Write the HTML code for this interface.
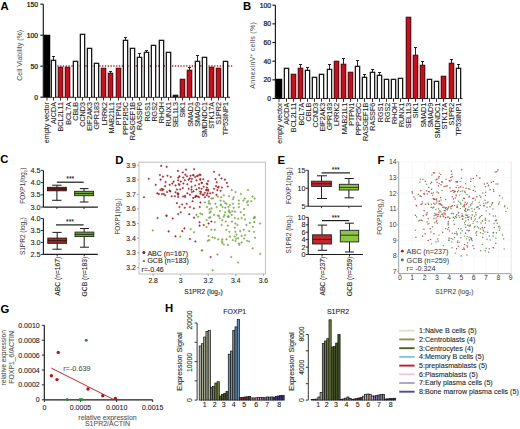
<!DOCTYPE html>
<html><head><meta charset="utf-8"><style>
html,body{margin:0;padding:0;background:#fff;width:520px;height:429px;overflow:hidden}
svg{display:block}
text{font-family:"Liberation Sans", sans-serif}
</style></head><body>
<svg width="520" height="429" viewBox="0 0 520 429" style="font-family:'Liberation Sans', sans-serif">
<rect width="520" height="429" fill="#fff"/>
<text x="0.40" y="9.90" font-size="11.3" text-anchor="start" fill="#000" font-weight="bold">A</text>
<line x1="43.30" y1="4.20" x2="43.30" y2="97.20" stroke="#1a1a1a" stroke-width="1.15"/>
<line x1="43.30" y1="97.20" x2="230.00" y2="97.20" stroke="#1a1a1a" stroke-width="1.15"/>
<line x1="40.30" y1="97.20" x2="43.30" y2="97.20" stroke="#1a1a1a" stroke-width="1.15"/>
<text x="38.00" y="99.60" font-size="6.8" text-anchor="end" fill="#111" stroke="#111" stroke-width="0.22">0</text>
<line x1="40.30" y1="66.20" x2="43.30" y2="66.20" stroke="#1a1a1a" stroke-width="1.15"/>
<text x="38.00" y="68.60" font-size="6.8" text-anchor="end" fill="#111" stroke="#111" stroke-width="0.22">50</text>
<line x1="40.30" y1="35.20" x2="43.30" y2="35.20" stroke="#1a1a1a" stroke-width="1.15"/>
<text x="38.00" y="37.60" font-size="6.8" text-anchor="end" fill="#111" stroke="#111" stroke-width="0.22">100</text>
<line x1="40.30" y1="4.20" x2="43.30" y2="4.20" stroke="#1a1a1a" stroke-width="1.15"/>
<text x="38.00" y="6.60" font-size="6.8" text-anchor="end" fill="#111" stroke="#111" stroke-width="0.22">150</text>
<line x1="43.30" y1="66.00" x2="233.00" y2="66.00" stroke="#b02024" stroke-width="1.3" stroke-dasharray="1.3 1.5"/>
<rect x="43.75" y="34.75" width="6.50" height="62.45" fill="#000"/>
<line x1="47.00" y1="97.20" x2="47.00" y2="100.50" stroke="#1a1a1a" stroke-width="0.9"/>
<text x="49.10" y="102.00" font-size="7.2" text-anchor="end" fill="#1a1a1a" transform="rotate(-90 49.1 102.0)" stroke="#1a1a1a" stroke-width="0.09">empty vector</text>
<rect x="50.70" y="59.70" width="5.60" height="37.50" fill="#1a1a1a"/>
<rect x="52.00" y="61.00" width="3.00" height="36.20" fill="#fff"/>
<line x1="53.50" y1="56.50" x2="53.50" y2="60.00" stroke="#222" stroke-width="1.0"/>
<line x1="52.00" y1="56.50" x2="55.00" y2="56.50" stroke="#222" stroke-width="1.0"/>
<line x1="53.50" y1="97.20" x2="53.50" y2="100.50" stroke="#1a1a1a" stroke-width="0.9"/>
<text x="56.27" y="102.00" font-size="7.2" text-anchor="end" fill="#1a1a1a" transform="rotate(-90 56.275 102.0)" stroke="#1a1a1a" stroke-width="0.09">AICDA</text>
<rect x="57.70" y="66.70" width="5.60" height="30.50" fill="#5a0c12"/>
<rect x="58.80" y="67.80" width="3.40" height="29.40" fill="#c1121f"/>
<line x1="60.50" y1="97.20" x2="60.50" y2="100.50" stroke="#1a1a1a" stroke-width="0.9"/>
<text x="63.45" y="102.00" font-size="7.2" text-anchor="end" fill="#1a1a1a" transform="rotate(-90 63.45 102.0)" stroke="#1a1a1a" stroke-width="0.09">BCL2L11</text>
<rect x="64.70" y="66.70" width="5.60" height="30.50" fill="#5a0c12"/>
<rect x="65.80" y="67.80" width="3.40" height="29.40" fill="#c1121f"/>
<line x1="67.50" y1="97.20" x2="67.50" y2="100.50" stroke="#1a1a1a" stroke-width="0.9"/>
<text x="70.62" y="102.00" font-size="7.2" text-anchor="end" fill="#1a1a1a" transform="rotate(-90 70.625 102.0)" stroke="#1a1a1a" stroke-width="0.09">BCL7A</text>
<rect x="72.70" y="60.70" width="5.60" height="36.50" fill="#1a1a1a"/>
<rect x="74.00" y="62.00" width="3.00" height="35.20" fill="#fff"/>
<line x1="75.50" y1="97.20" x2="75.50" y2="100.50" stroke="#1a1a1a" stroke-width="0.9"/>
<text x="77.80" y="102.00" font-size="7.2" text-anchor="end" fill="#1a1a1a" transform="rotate(-90 77.8 102.0)" stroke="#1a1a1a" stroke-width="0.09">CBLB</text>
<rect x="79.70" y="33.70" width="5.60" height="63.50" fill="#1a1a1a"/>
<rect x="81.00" y="35.00" width="3.00" height="62.20" fill="#fff"/>
<line x1="82.50" y1="97.20" x2="82.50" y2="100.50" stroke="#1a1a1a" stroke-width="0.9"/>
<text x="84.97" y="102.00" font-size="7.2" text-anchor="end" fill="#1a1a1a" transform="rotate(-90 84.975 102.0)" stroke="#1a1a1a" stroke-width="0.09">CCND3</text>
<rect x="86.70" y="47.70" width="5.60" height="49.50" fill="#1a1a1a"/>
<rect x="88.00" y="49.00" width="3.00" height="48.20" fill="#fff"/>
<line x1="89.50" y1="97.20" x2="89.50" y2="100.50" stroke="#1a1a1a" stroke-width="0.9"/>
<text x="92.15" y="102.00" font-size="7.2" text-anchor="end" fill="#1a1a1a" transform="rotate(-90 92.15 102.0)" stroke="#1a1a1a" stroke-width="0.09">EIF2AK3</text>
<rect x="93.70" y="62.70" width="5.60" height="34.50" fill="#1a1a1a"/>
<rect x="95.00" y="64.00" width="3.00" height="33.20" fill="#fff"/>
<line x1="96.50" y1="97.20" x2="96.50" y2="100.50" stroke="#1a1a1a" stroke-width="0.9"/>
<text x="99.33" y="102.00" font-size="7.2" text-anchor="end" fill="#1a1a1a" transform="rotate(-90 99.325 102.0)" stroke="#1a1a1a" stroke-width="0.09">GPR183</text>
<rect x="100.70" y="67.70" width="5.60" height="29.50" fill="#5a0c12"/>
<rect x="101.80" y="68.80" width="3.40" height="28.40" fill="#c1121f"/>
<line x1="103.50" y1="97.20" x2="103.50" y2="100.50" stroke="#1a1a1a" stroke-width="0.9"/>
<text x="106.50" y="102.00" font-size="7.2" text-anchor="end" fill="#1a1a1a" transform="rotate(-90 106.5 102.0)" stroke="#1a1a1a" stroke-width="0.09">LRRK2</text>
<rect x="107.70" y="72.70" width="5.60" height="24.50" fill="#5a0c12"/>
<rect x="108.80" y="73.80" width="3.40" height="23.40" fill="#c1121f"/>
<line x1="110.50" y1="71.50" x2="110.50" y2="73.00" stroke="#222" stroke-width="1.0"/>
<line x1="109.00" y1="71.50" x2="112.00" y2="71.50" stroke="#222" stroke-width="1.0"/>
<line x1="110.50" y1="97.20" x2="110.50" y2="100.50" stroke="#1a1a1a" stroke-width="0.9"/>
<text x="113.68" y="102.00" font-size="7.2" text-anchor="end" fill="#1a1a1a" transform="rotate(-90 113.67500000000001 102.0)" stroke="#1a1a1a" stroke-width="0.09">MAB21L1</text>
<rect x="115.70" y="67.70" width="5.60" height="29.50" fill="#5a0c12"/>
<rect x="116.80" y="68.80" width="3.40" height="28.40" fill="#c1121f"/>
<line x1="118.50" y1="97.20" x2="118.50" y2="100.50" stroke="#1a1a1a" stroke-width="0.9"/>
<text x="120.85" y="102.00" font-size="7.2" text-anchor="end" fill="#1a1a1a" transform="rotate(-90 120.85 102.0)" stroke="#1a1a1a" stroke-width="0.09">PTPN1</text>
<rect x="122.70" y="39.70" width="5.60" height="57.50" fill="#1a1a1a"/>
<rect x="124.00" y="41.00" width="3.00" height="56.20" fill="#fff"/>
<line x1="125.50" y1="37.50" x2="125.50" y2="40.00" stroke="#222" stroke-width="1.0"/>
<line x1="124.00" y1="37.50" x2="127.00" y2="37.50" stroke="#222" stroke-width="1.0"/>
<line x1="125.50" y1="97.20" x2="125.50" y2="100.50" stroke="#1a1a1a" stroke-width="0.9"/>
<text x="128.03" y="102.00" font-size="7.2" text-anchor="end" fill="#1a1a1a" transform="rotate(-90 128.025 102.0)" stroke="#1a1a1a" stroke-width="0.09">PPP2R5C</text>
<rect x="129.70" y="47.70" width="5.60" height="49.50" fill="#1a1a1a"/>
<rect x="131.00" y="49.00" width="3.00" height="48.20" fill="#fff"/>
<line x1="132.50" y1="97.20" x2="132.50" y2="100.50" stroke="#1a1a1a" stroke-width="0.9"/>
<text x="135.20" y="102.00" font-size="7.2" text-anchor="end" fill="#1a1a1a" transform="rotate(-90 135.2 102.0)" stroke="#1a1a1a" stroke-width="0.09">RASGEF1B</text>
<rect x="136.70" y="56.70" width="5.60" height="40.50" fill="#1a1a1a"/>
<rect x="138.00" y="58.00" width="3.00" height="39.20" fill="#fff"/>
<line x1="139.50" y1="53.50" x2="139.50" y2="57.00" stroke="#222" stroke-width="1.0"/>
<line x1="138.00" y1="53.50" x2="141.00" y2="53.50" stroke="#222" stroke-width="1.0"/>
<line x1="139.50" y1="97.20" x2="139.50" y2="100.50" stroke="#1a1a1a" stroke-width="0.9"/>
<text x="142.38" y="102.00" font-size="7.2" text-anchor="end" fill="#1a1a1a" transform="rotate(-90 142.375 102.0)" stroke="#1a1a1a" stroke-width="0.09">RASSF6</text>
<rect x="143.70" y="51.70" width="5.60" height="45.50" fill="#1a1a1a"/>
<rect x="145.00" y="53.00" width="3.00" height="44.20" fill="#fff"/>
<line x1="146.50" y1="50.50" x2="146.50" y2="52.00" stroke="#222" stroke-width="1.0"/>
<line x1="145.00" y1="50.50" x2="148.00" y2="50.50" stroke="#222" stroke-width="1.0"/>
<line x1="146.50" y1="97.20" x2="146.50" y2="100.50" stroke="#1a1a1a" stroke-width="0.9"/>
<text x="149.55" y="102.00" font-size="7.2" text-anchor="end" fill="#1a1a1a" transform="rotate(-90 149.55 102.0)" stroke="#1a1a1a" stroke-width="0.09">RGS1</text>
<rect x="150.70" y="44.70" width="5.60" height="52.50" fill="#1a1a1a"/>
<rect x="152.00" y="46.00" width="3.00" height="51.20" fill="#fff"/>
<line x1="153.50" y1="97.20" x2="153.50" y2="100.50" stroke="#1a1a1a" stroke-width="0.9"/>
<text x="156.72" y="102.00" font-size="7.2" text-anchor="end" fill="#1a1a1a" transform="rotate(-90 156.725 102.0)" stroke="#1a1a1a" stroke-width="0.09">RGS2</text>
<rect x="158.70" y="39.70" width="5.60" height="57.50" fill="#1a1a1a"/>
<rect x="160.00" y="41.00" width="3.00" height="56.20" fill="#fff"/>
<line x1="161.50" y1="97.20" x2="161.50" y2="100.50" stroke="#1a1a1a" stroke-width="0.9"/>
<text x="163.90" y="102.00" font-size="7.2" text-anchor="end" fill="#1a1a1a" transform="rotate(-90 163.9 102.0)" stroke="#1a1a1a" stroke-width="0.09">RHOH</text>
<rect x="165.70" y="51.70" width="5.60" height="45.50" fill="#1a1a1a"/>
<rect x="167.00" y="53.00" width="3.00" height="44.20" fill="#fff"/>
<line x1="168.50" y1="97.20" x2="168.50" y2="100.50" stroke="#1a1a1a" stroke-width="0.9"/>
<text x="171.07" y="102.00" font-size="7.2" text-anchor="end" fill="#1a1a1a" transform="rotate(-90 171.075 102.0)" stroke="#1a1a1a" stroke-width="0.09">RUNX1</text>
<rect x="172.70" y="94.70" width="5.60" height="2.50" fill="#1a1a1a"/>
<line x1="175.50" y1="97.20" x2="175.50" y2="100.50" stroke="#1a1a1a" stroke-width="0.9"/>
<text x="178.25" y="102.00" font-size="7.2" text-anchor="end" fill="#1a1a1a" transform="rotate(-90 178.25 102.0)" stroke="#1a1a1a" stroke-width="0.09">SEL1L3</text>
<rect x="179.70" y="78.70" width="5.60" height="18.50" fill="#5a0c12"/>
<rect x="180.80" y="79.80" width="3.40" height="17.40" fill="#c1121f"/>
<line x1="182.50" y1="97.20" x2="182.50" y2="100.50" stroke="#1a1a1a" stroke-width="0.9"/>
<text x="185.42" y="102.00" font-size="7.2" text-anchor="end" fill="#1a1a1a" transform="rotate(-90 185.42499999999998 102.0)" stroke="#1a1a1a" stroke-width="0.09">SIK1</text>
<rect x="186.70" y="69.70" width="5.60" height="27.50" fill="#5a0c12"/>
<rect x="187.80" y="70.80" width="3.40" height="26.40" fill="#c1121f"/>
<line x1="189.50" y1="67.50" x2="189.50" y2="70.00" stroke="#222" stroke-width="1.0"/>
<line x1="188.00" y1="67.50" x2="191.00" y2="67.50" stroke="#222" stroke-width="1.0"/>
<line x1="189.50" y1="97.20" x2="189.50" y2="100.50" stroke="#1a1a1a" stroke-width="0.9"/>
<text x="192.60" y="102.00" font-size="7.2" text-anchor="end" fill="#1a1a1a" transform="rotate(-90 192.6 102.0)" stroke="#1a1a1a" stroke-width="0.09">SMAD1</text>
<rect x="194.70" y="60.70" width="5.60" height="36.50" fill="#1a1a1a"/>
<rect x="196.00" y="62.00" width="3.00" height="35.20" fill="#fff"/>
<line x1="197.50" y1="55.50" x2="197.50" y2="61.00" stroke="#222" stroke-width="1.0"/>
<line x1="196.00" y1="55.50" x2="199.00" y2="55.50" stroke="#222" stroke-width="1.0"/>
<line x1="197.50" y1="97.20" x2="197.50" y2="100.50" stroke="#1a1a1a" stroke-width="0.9"/>
<text x="199.77" y="102.00" font-size="7.2" text-anchor="end" fill="#1a1a1a" transform="rotate(-90 199.77499999999998 102.0)" stroke="#1a1a1a" stroke-width="0.09">SMAD9</text>
<rect x="201.70" y="56.70" width="5.60" height="40.50" fill="#1a1a1a"/>
<rect x="203.00" y="58.00" width="3.00" height="39.20" fill="#fff"/>
<line x1="204.50" y1="97.20" x2="204.50" y2="100.50" stroke="#1a1a1a" stroke-width="0.9"/>
<text x="206.95" y="102.00" font-size="7.2" text-anchor="end" fill="#1a1a1a" transform="rotate(-90 206.95 102.0)" stroke="#1a1a1a" stroke-width="0.09">SMDNDC1</text>
<rect x="208.70" y="66.70" width="5.60" height="30.50" fill="#5a0c12"/>
<rect x="209.80" y="67.80" width="3.40" height="29.40" fill="#c1121f"/>
<line x1="211.50" y1="97.20" x2="211.50" y2="100.50" stroke="#1a1a1a" stroke-width="0.9"/>
<text x="214.12" y="102.00" font-size="7.2" text-anchor="end" fill="#1a1a1a" transform="rotate(-90 214.125 102.0)" stroke="#1a1a1a" stroke-width="0.09">STK17A</text>
<rect x="215.70" y="67.70" width="5.60" height="29.50" fill="#5a0c12"/>
<rect x="216.80" y="68.80" width="3.40" height="28.40" fill="#c1121f"/>
<line x1="218.50" y1="97.20" x2="218.50" y2="100.50" stroke="#1a1a1a" stroke-width="0.9"/>
<text x="221.30" y="102.00" font-size="7.2" text-anchor="end" fill="#1a1a1a" transform="rotate(-90 221.29999999999998 102.0)" stroke="#1a1a1a" stroke-width="0.09">S1PR2</text>
<rect x="222.70" y="60.70" width="5.60" height="36.50" fill="#1a1a1a"/>
<rect x="224.00" y="62.00" width="3.00" height="35.20" fill="#fff"/>
<line x1="225.50" y1="97.20" x2="225.50" y2="100.50" stroke="#1a1a1a" stroke-width="0.9"/>
<text x="228.47" y="102.00" font-size="7.2" text-anchor="end" fill="#1a1a1a" transform="rotate(-90 228.475 102.0)" stroke="#1a1a1a" stroke-width="0.09">TP53INP1</text>
<text x="22.0" y="55.3" font-size="7.0" text-anchor="middle" fill="#4a4a4a" transform="rotate(-90 22.0 55.3)">Cell Viability (%)</text>
<text x="243.00" y="10.20" font-size="11.3" text-anchor="start" fill="#000" font-weight="bold">B</text>
<line x1="275.40" y1="5.20" x2="275.40" y2="98.50" stroke="#1a1a1a" stroke-width="1.15"/>
<line x1="275.40" y1="98.50" x2="462.50" y2="98.50" stroke="#1a1a1a" stroke-width="1.15"/>
<line x1="272.40" y1="98.50" x2="275.40" y2="98.50" stroke="#1a1a1a" stroke-width="1.15"/>
<text x="271.10" y="100.90" font-size="6.8" text-anchor="end" fill="#111" stroke="#111" stroke-width="0.22">0</text>
<line x1="272.40" y1="79.84" x2="275.40" y2="79.84" stroke="#1a1a1a" stroke-width="1.15"/>
<text x="271.10" y="82.24" font-size="6.8" text-anchor="end" fill="#111" stroke="#111" stroke-width="0.22">20</text>
<line x1="272.40" y1="61.18" x2="275.40" y2="61.18" stroke="#1a1a1a" stroke-width="1.15"/>
<text x="271.10" y="63.58" font-size="6.8" text-anchor="end" fill="#111" stroke="#111" stroke-width="0.22">40</text>
<line x1="272.40" y1="42.52" x2="275.40" y2="42.52" stroke="#1a1a1a" stroke-width="1.15"/>
<text x="271.10" y="44.92" font-size="6.8" text-anchor="end" fill="#111" stroke="#111" stroke-width="0.22">60</text>
<line x1="272.40" y1="23.86" x2="275.40" y2="23.86" stroke="#1a1a1a" stroke-width="1.15"/>
<text x="271.10" y="26.26" font-size="6.8" text-anchor="end" fill="#111" stroke="#111" stroke-width="0.22">80</text>
<line x1="272.40" y1="5.20" x2="275.40" y2="5.20" stroke="#1a1a1a" stroke-width="1.15"/>
<text x="271.10" y="7.60" font-size="6.8" text-anchor="end" fill="#111" stroke="#111" stroke-width="0.22">100</text>
<rect x="275.75" y="78.75" width="6.50" height="19.75" fill="#000"/>
<line x1="279.00" y1="98.50" x2="279.00" y2="101.80" stroke="#1a1a1a" stroke-width="0.9"/>
<text x="282.10" y="102.70" font-size="7.2" text-anchor="end" fill="#1a1a1a" transform="rotate(-90 282.1 102.7)" stroke="#1a1a1a" stroke-width="0.09">empty vector</text>
<rect x="283.70" y="67.70" width="5.60" height="30.80" fill="#1a1a1a"/>
<rect x="285.00" y="69.00" width="3.00" height="29.50" fill="#fff"/>
<line x1="286.50" y1="98.50" x2="286.50" y2="101.80" stroke="#1a1a1a" stroke-width="0.9"/>
<text x="289.28" y="102.70" font-size="7.2" text-anchor="end" fill="#1a1a1a" transform="rotate(-90 289.276 102.7)" stroke="#1a1a1a" stroke-width="0.09">AICDA</text>
<rect x="290.70" y="73.70" width="5.60" height="24.80" fill="#5a0c12"/>
<rect x="291.80" y="74.80" width="3.40" height="23.70" fill="#c1121f"/>
<line x1="293.50" y1="98.50" x2="293.50" y2="101.80" stroke="#1a1a1a" stroke-width="0.9"/>
<text x="296.45" y="102.70" font-size="7.2" text-anchor="end" fill="#1a1a1a" transform="rotate(-90 296.452 102.7)" stroke="#1a1a1a" stroke-width="0.09">BCL2L11</text>
<rect x="297.70" y="67.70" width="5.60" height="30.80" fill="#5a0c12"/>
<rect x="298.80" y="68.80" width="3.40" height="29.70" fill="#c1121f"/>
<line x1="300.50" y1="64.50" x2="300.50" y2="68.00" stroke="#222" stroke-width="1.0"/>
<line x1="299.00" y1="64.50" x2="302.00" y2="64.50" stroke="#222" stroke-width="1.0"/>
<line x1="300.50" y1="98.50" x2="300.50" y2="101.80" stroke="#1a1a1a" stroke-width="0.9"/>
<text x="303.63" y="102.70" font-size="7.2" text-anchor="end" fill="#1a1a1a" transform="rotate(-90 303.62800000000004 102.7)" stroke="#1a1a1a" stroke-width="0.09">BCL7A</text>
<rect x="304.70" y="69.70" width="5.60" height="28.80" fill="#1a1a1a"/>
<rect x="306.00" y="71.00" width="3.00" height="27.50" fill="#fff"/>
<line x1="307.50" y1="67.50" x2="307.50" y2="70.00" stroke="#222" stroke-width="1.0"/>
<line x1="306.00" y1="67.50" x2="309.00" y2="67.50" stroke="#222" stroke-width="1.0"/>
<line x1="307.50" y1="98.50" x2="307.50" y2="101.80" stroke="#1a1a1a" stroke-width="0.9"/>
<text x="310.80" y="102.70" font-size="7.2" text-anchor="end" fill="#1a1a1a" transform="rotate(-90 310.80400000000003 102.7)" stroke="#1a1a1a" stroke-width="0.09">CBLB</text>
<rect x="311.70" y="76.70" width="5.60" height="21.80" fill="#1a1a1a"/>
<rect x="313.00" y="78.00" width="3.00" height="20.50" fill="#fff"/>
<line x1="314.50" y1="98.50" x2="314.50" y2="101.80" stroke="#1a1a1a" stroke-width="0.9"/>
<text x="317.98" y="102.70" font-size="7.2" text-anchor="end" fill="#1a1a1a" transform="rotate(-90 317.98 102.7)" stroke="#1a1a1a" stroke-width="0.09">CCND3</text>
<rect x="318.70" y="73.70" width="5.60" height="24.80" fill="#1a1a1a"/>
<rect x="320.00" y="75.00" width="3.00" height="23.50" fill="#fff"/>
<line x1="321.50" y1="98.50" x2="321.50" y2="101.80" stroke="#1a1a1a" stroke-width="0.9"/>
<text x="325.16" y="102.70" font-size="7.2" text-anchor="end" fill="#1a1a1a" transform="rotate(-90 325.156 102.7)" stroke="#1a1a1a" stroke-width="0.09">EIF2AK3</text>
<rect x="326.70" y="68.70" width="5.60" height="29.80" fill="#1a1a1a"/>
<rect x="328.00" y="70.00" width="3.00" height="28.50" fill="#fff"/>
<line x1="329.50" y1="64.50" x2="329.50" y2="69.00" stroke="#222" stroke-width="1.0"/>
<line x1="328.00" y1="64.50" x2="331.00" y2="64.50" stroke="#222" stroke-width="1.0"/>
<line x1="329.50" y1="98.50" x2="329.50" y2="101.80" stroke="#1a1a1a" stroke-width="0.9"/>
<text x="332.33" y="102.70" font-size="7.2" text-anchor="end" fill="#1a1a1a" transform="rotate(-90 332.332 102.7)" stroke="#1a1a1a" stroke-width="0.09">GPR183</text>
<rect x="333.70" y="60.70" width="5.60" height="37.80" fill="#5a0c12"/>
<rect x="334.80" y="61.80" width="3.40" height="36.70" fill="#c1121f"/>
<line x1="336.50" y1="98.50" x2="336.50" y2="101.80" stroke="#1a1a1a" stroke-width="0.9"/>
<text x="339.51" y="102.70" font-size="7.2" text-anchor="end" fill="#1a1a1a" transform="rotate(-90 339.50800000000004 102.7)" stroke="#1a1a1a" stroke-width="0.09">LRRK2</text>
<rect x="340.70" y="63.70" width="5.60" height="34.80" fill="#5a0c12"/>
<rect x="341.80" y="64.80" width="3.40" height="33.70" fill="#c1121f"/>
<line x1="343.50" y1="58.50" x2="343.50" y2="64.00" stroke="#222" stroke-width="1.0"/>
<line x1="342.00" y1="58.50" x2="345.00" y2="58.50" stroke="#222" stroke-width="1.0"/>
<line x1="343.50" y1="98.50" x2="343.50" y2="101.80" stroke="#1a1a1a" stroke-width="0.9"/>
<text x="346.68" y="102.70" font-size="7.2" text-anchor="end" fill="#1a1a1a" transform="rotate(-90 346.684 102.7)" stroke="#1a1a1a" stroke-width="0.09">MAB21L1</text>
<rect x="347.70" y="71.70" width="5.60" height="26.80" fill="#5a0c12"/>
<rect x="348.80" y="72.80" width="3.40" height="25.70" fill="#c1121f"/>
<line x1="350.50" y1="98.50" x2="350.50" y2="101.80" stroke="#1a1a1a" stroke-width="0.9"/>
<text x="353.86" y="102.70" font-size="7.2" text-anchor="end" fill="#1a1a1a" transform="rotate(-90 353.86 102.7)" stroke="#1a1a1a" stroke-width="0.09">PTPN1</text>
<rect x="354.70" y="65.70" width="5.60" height="32.80" fill="#1a1a1a"/>
<rect x="356.00" y="67.00" width="3.00" height="31.50" fill="#fff"/>
<line x1="357.50" y1="60.50" x2="357.50" y2="66.00" stroke="#222" stroke-width="1.0"/>
<line x1="356.00" y1="60.50" x2="359.00" y2="60.50" stroke="#222" stroke-width="1.0"/>
<line x1="357.50" y1="98.50" x2="357.50" y2="101.80" stroke="#1a1a1a" stroke-width="0.9"/>
<text x="361.04" y="102.70" font-size="7.2" text-anchor="end" fill="#1a1a1a" transform="rotate(-90 361.03600000000006 102.7)" stroke="#1a1a1a" stroke-width="0.09">PPP2R5C</text>
<rect x="361.70" y="76.70" width="5.60" height="21.80" fill="#1a1a1a"/>
<rect x="363.00" y="78.00" width="3.00" height="20.50" fill="#fff"/>
<line x1="364.50" y1="74.50" x2="364.50" y2="77.00" stroke="#222" stroke-width="1.0"/>
<line x1="363.00" y1="74.50" x2="366.00" y2="74.50" stroke="#222" stroke-width="1.0"/>
<line x1="364.50" y1="98.50" x2="364.50" y2="101.80" stroke="#1a1a1a" stroke-width="0.9"/>
<text x="368.21" y="102.70" font-size="7.2" text-anchor="end" fill="#1a1a1a" transform="rotate(-90 368.212 102.7)" stroke="#1a1a1a" stroke-width="0.09">RASGEF1B</text>
<rect x="369.70" y="71.70" width="5.60" height="26.80" fill="#1a1a1a"/>
<rect x="371.00" y="73.00" width="3.00" height="25.50" fill="#fff"/>
<line x1="372.50" y1="69.50" x2="372.50" y2="72.00" stroke="#222" stroke-width="1.0"/>
<line x1="371.00" y1="69.50" x2="374.00" y2="69.50" stroke="#222" stroke-width="1.0"/>
<line x1="372.50" y1="98.50" x2="372.50" y2="101.80" stroke="#1a1a1a" stroke-width="0.9"/>
<text x="375.39" y="102.70" font-size="7.2" text-anchor="end" fill="#1a1a1a" transform="rotate(-90 375.38800000000003 102.7)" stroke="#1a1a1a" stroke-width="0.09">RASSF6</text>
<rect x="376.70" y="74.70" width="5.60" height="23.80" fill="#1a1a1a"/>
<rect x="378.00" y="76.00" width="3.00" height="22.50" fill="#fff"/>
<line x1="379.50" y1="72.50" x2="379.50" y2="75.00" stroke="#222" stroke-width="1.0"/>
<line x1="378.00" y1="72.50" x2="381.00" y2="72.50" stroke="#222" stroke-width="1.0"/>
<line x1="379.50" y1="98.50" x2="379.50" y2="101.80" stroke="#1a1a1a" stroke-width="0.9"/>
<text x="382.56" y="102.70" font-size="7.2" text-anchor="end" fill="#1a1a1a" transform="rotate(-90 382.564 102.7)" stroke="#1a1a1a" stroke-width="0.09">RGS1</text>
<rect x="383.70" y="78.70" width="5.60" height="19.80" fill="#1a1a1a"/>
<rect x="385.00" y="80.00" width="3.00" height="18.50" fill="#fff"/>
<line x1="386.50" y1="98.50" x2="386.50" y2="101.80" stroke="#1a1a1a" stroke-width="0.9"/>
<text x="389.74" y="102.70" font-size="7.2" text-anchor="end" fill="#1a1a1a" transform="rotate(-90 389.74 102.7)" stroke="#1a1a1a" stroke-width="0.09">RGS2</text>
<rect x="390.70" y="78.70" width="5.60" height="19.80" fill="#1a1a1a"/>
<rect x="392.00" y="80.00" width="3.00" height="18.50" fill="#fff"/>
<line x1="393.50" y1="98.50" x2="393.50" y2="101.80" stroke="#1a1a1a" stroke-width="0.9"/>
<text x="396.92" y="102.70" font-size="7.2" text-anchor="end" fill="#1a1a1a" transform="rotate(-90 396.91600000000005 102.7)" stroke="#1a1a1a" stroke-width="0.09">RHOH</text>
<rect x="397.70" y="77.70" width="5.60" height="20.80" fill="#1a1a1a"/>
<rect x="399.00" y="79.00" width="3.00" height="19.50" fill="#fff"/>
<line x1="400.50" y1="98.50" x2="400.50" y2="101.80" stroke="#1a1a1a" stroke-width="0.9"/>
<text x="404.09" y="102.70" font-size="7.2" text-anchor="end" fill="#1a1a1a" transform="rotate(-90 404.09200000000004 102.7)" stroke="#1a1a1a" stroke-width="0.09">RUNX1</text>
<rect x="405.70" y="16.70" width="5.60" height="81.80" fill="#5a0c12"/>
<rect x="406.80" y="17.80" width="3.40" height="80.70" fill="#c1121f"/>
<line x1="408.50" y1="98.50" x2="408.50" y2="101.80" stroke="#1a1a1a" stroke-width="0.9"/>
<text x="411.27" y="102.70" font-size="7.2" text-anchor="end" fill="#1a1a1a" transform="rotate(-90 411.26800000000003 102.7)" stroke="#1a1a1a" stroke-width="0.09">SEL1L3</text>
<rect x="412.70" y="54.70" width="5.60" height="43.80" fill="#5a0c12"/>
<rect x="413.80" y="55.80" width="3.40" height="42.70" fill="#c1121f"/>
<line x1="415.50" y1="47.50" x2="415.50" y2="55.00" stroke="#222" stroke-width="1.0"/>
<line x1="414.00" y1="47.50" x2="417.00" y2="47.50" stroke="#222" stroke-width="1.0"/>
<line x1="415.50" y1="98.50" x2="415.50" y2="101.80" stroke="#1a1a1a" stroke-width="0.9"/>
<text x="418.44" y="102.70" font-size="7.2" text-anchor="end" fill="#1a1a1a" transform="rotate(-90 418.444 102.7)" stroke="#1a1a1a" stroke-width="0.09">SIK1</text>
<rect x="419.70" y="64.70" width="5.60" height="33.80" fill="#5a0c12"/>
<rect x="420.80" y="65.80" width="3.40" height="32.70" fill="#c1121f"/>
<line x1="422.50" y1="61.50" x2="422.50" y2="65.00" stroke="#222" stroke-width="1.0"/>
<line x1="421.00" y1="61.50" x2="424.00" y2="61.50" stroke="#222" stroke-width="1.0"/>
<line x1="422.50" y1="98.50" x2="422.50" y2="101.80" stroke="#1a1a1a" stroke-width="0.9"/>
<text x="425.62" y="102.70" font-size="7.2" text-anchor="end" fill="#1a1a1a" transform="rotate(-90 425.62 102.7)" stroke="#1a1a1a" stroke-width="0.09">SMAD1</text>
<rect x="426.70" y="78.70" width="5.60" height="19.80" fill="#1a1a1a"/>
<rect x="428.00" y="80.00" width="3.00" height="18.50" fill="#fff"/>
<line x1="429.50" y1="98.50" x2="429.50" y2="101.80" stroke="#1a1a1a" stroke-width="0.9"/>
<text x="432.80" y="102.70" font-size="7.2" text-anchor="end" fill="#1a1a1a" transform="rotate(-90 432.79600000000005 102.7)" stroke="#1a1a1a" stroke-width="0.09">SMAD9</text>
<rect x="433.70" y="80.70" width="5.60" height="17.80" fill="#1a1a1a"/>
<rect x="435.00" y="82.00" width="3.00" height="16.50" fill="#fff"/>
<line x1="436.50" y1="98.50" x2="436.50" y2="101.80" stroke="#1a1a1a" stroke-width="0.9"/>
<text x="439.97" y="102.70" font-size="7.2" text-anchor="end" fill="#1a1a1a" transform="rotate(-90 439.97200000000004 102.7)" stroke="#1a1a1a" stroke-width="0.09">SMDNDC1</text>
<rect x="440.70" y="75.70" width="5.60" height="22.80" fill="#5a0c12"/>
<rect x="441.80" y="76.80" width="3.40" height="21.70" fill="#c1121f"/>
<line x1="443.50" y1="98.50" x2="443.50" y2="101.80" stroke="#1a1a1a" stroke-width="0.9"/>
<text x="447.15" y="102.70" font-size="7.2" text-anchor="end" fill="#1a1a1a" transform="rotate(-90 447.148 102.7)" stroke="#1a1a1a" stroke-width="0.09">STK17A</text>
<rect x="448.70" y="62.70" width="5.60" height="35.80" fill="#5a0c12"/>
<rect x="449.80" y="63.80" width="3.40" height="34.70" fill="#c1121f"/>
<line x1="451.50" y1="59.50" x2="451.50" y2="63.00" stroke="#222" stroke-width="1.0"/>
<line x1="450.00" y1="59.50" x2="453.00" y2="59.50" stroke="#222" stroke-width="1.0"/>
<line x1="451.50" y1="98.50" x2="451.50" y2="101.80" stroke="#1a1a1a" stroke-width="0.9"/>
<text x="454.32" y="102.70" font-size="7.2" text-anchor="end" fill="#1a1a1a" transform="rotate(-90 454.324 102.7)" stroke="#1a1a1a" stroke-width="0.09">S1PR2</text>
<rect x="455.70" y="67.70" width="5.60" height="30.80" fill="#1a1a1a"/>
<rect x="457.00" y="69.00" width="3.00" height="29.50" fill="#fff"/>
<line x1="458.50" y1="64.50" x2="458.50" y2="68.00" stroke="#222" stroke-width="1.0"/>
<line x1="457.00" y1="64.50" x2="460.00" y2="64.50" stroke="#222" stroke-width="1.0"/>
<line x1="458.50" y1="98.50" x2="458.50" y2="101.80" stroke="#1a1a1a" stroke-width="0.9"/>
<text x="461.50" y="102.70" font-size="7.2" text-anchor="end" fill="#1a1a1a" transform="rotate(-90 461.5 102.7)" stroke="#1a1a1a" stroke-width="0.09">TP53INP1</text>
<text x="255.2" y="55.4" font-size="7.1" text-anchor="middle" fill="#4a4a4a" textLength="66.5" lengthAdjust="spacing" transform="rotate(-90 255.2 55.4)">AnnexinV<tspan font-size="4.8" dy="-2.4">+</tspan><tspan dy="2.4"> cells (%)</tspan></text>
<text x="0.20" y="163.20" font-size="11.3" text-anchor="start" fill="#000" font-weight="bold">C</text>
<line x1="43.40" y1="170.39" x2="43.40" y2="207.10" stroke="#1a1a1a" stroke-width="1.15"/>
<line x1="43.40" y1="207.10" x2="97.80" y2="207.10" stroke="#1a1a1a" stroke-width="1.15"/>
<line x1="40.90" y1="170.39" x2="43.40" y2="170.39" stroke="#1a1a1a" stroke-width="0.9"/>
<text x="40.60" y="172.99" font-size="7.3" text-anchor="end" fill="#1a1a1a" stroke="#1a1a1a" stroke-width="0.09">4.5</text>
<line x1="40.90" y1="182.63" x2="43.40" y2="182.63" stroke="#1a1a1a" stroke-width="0.9"/>
<text x="40.60" y="185.23" font-size="7.3" text-anchor="end" fill="#1a1a1a" stroke="#1a1a1a" stroke-width="0.09">4.0</text>
<line x1="40.90" y1="194.87" x2="43.40" y2="194.87" stroke="#1a1a1a" stroke-width="0.9"/>
<text x="40.60" y="197.47" font-size="7.3" text-anchor="end" fill="#1a1a1a" stroke="#1a1a1a" stroke-width="0.09">3.5</text>
<line x1="40.90" y1="207.10" x2="43.40" y2="207.10" stroke="#1a1a1a" stroke-width="0.9"/>
<text x="40.60" y="209.70" font-size="7.3" text-anchor="end" fill="#1a1a1a" stroke="#1a1a1a" stroke-width="0.09">3.0</text>
<line x1="56.90" y1="207.10" x2="56.90" y2="209.10" stroke="#1a1a1a" stroke-width="0.9"/>
<line x1="84.00" y1="207.10" x2="84.00" y2="209.10" stroke="#1a1a1a" stroke-width="0.9"/>
<line x1="56.90" y1="185.20" x2="56.90" y2="187.30" stroke="#222" stroke-width="1.05"/>
<line x1="56.90" y1="190.80" x2="56.90" y2="200.30" stroke="#222" stroke-width="1.05"/>
<line x1="52.20" y1="185.20" x2="61.50" y2="185.20" stroke="#222" stroke-width="1.05"/>
<line x1="52.20" y1="200.30" x2="61.50" y2="200.30" stroke="#222" stroke-width="1.05"/>
<rect x="47.50" y="187.30" width="18.80" height="3.50" fill="#7e2024" stroke="#2a1010" stroke-width="0.9"/>
<line x1="47.50" y1="189.00" x2="66.30" y2="189.00" stroke="#2a1010" stroke-width="0.9"/>
<line x1="84.00" y1="188.60" x2="84.00" y2="191.30" stroke="#222" stroke-width="1.05"/>
<line x1="84.00" y1="195.70" x2="84.00" y2="202.00" stroke="#222" stroke-width="1.05"/>
<line x1="79.80" y1="188.60" x2="88.50" y2="188.60" stroke="#222" stroke-width="1.05"/>
<line x1="79.80" y1="202.00" x2="88.50" y2="202.00" stroke="#222" stroke-width="1.05"/>
<rect x="74.60" y="191.30" width="19.00" height="4.40" fill="#72a43a" stroke="#1c2a10" stroke-width="0.9"/>
<line x1="74.60" y1="193.50" x2="93.60" y2="193.50" stroke="#1c2a10" stroke-width="0.9"/>
<line x1="56.80" y1="182.20" x2="83.70" y2="182.20" stroke="#1a1a1a" stroke-width="1.2"/>
<text x="70.30" y="181.20" font-size="6.8" text-anchor="middle" fill="#222" stroke="#222" stroke-width="0.09">***</text>
<text x="25.3" y="185.7" font-size="6.4" text-anchor="middle" fill="#333" transform="rotate(-90 25.3 185.7)">FOXP1(log<tspan font-size="4.2" dy="1.4">2</tspan><tspan dy="-1.4">)</tspan></text>
<line x1="43.40" y1="218.50" x2="43.40" y2="254.40" stroke="#1a1a1a" stroke-width="1.15"/>
<line x1="43.40" y1="254.40" x2="97.80" y2="254.40" stroke="#1a1a1a" stroke-width="1.15"/>
<line x1="40.90" y1="218.50" x2="43.40" y2="218.50" stroke="#1a1a1a" stroke-width="0.9"/>
<text x="40.60" y="221.10" font-size="7.3" text-anchor="end" fill="#1a1a1a" stroke="#1a1a1a" stroke-width="0.09">4.0</text>
<line x1="40.90" y1="230.47" x2="43.40" y2="230.47" stroke="#1a1a1a" stroke-width="0.9"/>
<text x="40.60" y="233.07" font-size="7.3" text-anchor="end" fill="#1a1a1a" stroke="#1a1a1a" stroke-width="0.09">3.5</text>
<line x1="40.90" y1="242.44" x2="43.40" y2="242.44" stroke="#1a1a1a" stroke-width="0.9"/>
<text x="40.60" y="245.03" font-size="7.3" text-anchor="end" fill="#1a1a1a" stroke="#1a1a1a" stroke-width="0.09">3.0</text>
<line x1="40.90" y1="254.40" x2="43.40" y2="254.40" stroke="#1a1a1a" stroke-width="0.9"/>
<text x="40.60" y="257.00" font-size="7.3" text-anchor="end" fill="#1a1a1a" stroke="#1a1a1a" stroke-width="0.09">2.5</text>
<line x1="57.20" y1="254.40" x2="57.20" y2="256.40" stroke="#1a1a1a" stroke-width="0.9"/>
<line x1="84.20" y1="254.40" x2="84.20" y2="256.40" stroke="#1a1a1a" stroke-width="0.9"/>
<line x1="57.20" y1="232.40" x2="57.20" y2="238.10" stroke="#222" stroke-width="1.05"/>
<line x1="57.20" y1="243.30" x2="57.20" y2="249.20" stroke="#222" stroke-width="1.05"/>
<line x1="52.40" y1="232.40" x2="61.60" y2="232.40" stroke="#222" stroke-width="1.05"/>
<line x1="52.40" y1="249.20" x2="61.60" y2="249.20" stroke="#222" stroke-width="1.05"/>
<rect x="47.80" y="238.10" width="18.80" height="5.20" fill="#9e2a2a" stroke="#2a1010" stroke-width="0.9"/>
<line x1="47.80" y1="240.70" x2="66.60" y2="240.70" stroke="#2a1010" stroke-width="0.9"/>
<line x1="84.20" y1="228.50" x2="84.20" y2="232.10" stroke="#222" stroke-width="1.05"/>
<line x1="84.20" y1="236.60" x2="84.20" y2="247.20" stroke="#222" stroke-width="1.05"/>
<line x1="80.00" y1="228.50" x2="89.00" y2="228.50" stroke="#222" stroke-width="1.05"/>
<line x1="80.00" y1="247.20" x2="89.00" y2="247.20" stroke="#222" stroke-width="1.05"/>
<rect x="75.00" y="232.10" width="18.80" height="4.50" fill="#72a43a" stroke="#1c2a10" stroke-width="0.9"/>
<line x1="75.00" y1="234.40" x2="93.80" y2="234.40" stroke="#1c2a10" stroke-width="0.9"/>
<line x1="56.00" y1="224.90" x2="83.60" y2="224.90" stroke="#1a1a1a" stroke-width="1.2"/>
<text x="70.00" y="224.00" font-size="6.8" text-anchor="middle" fill="#222" stroke="#222" stroke-width="0.09">***</text>
<text x="25.5" y="236.2" font-size="6.5" text-anchor="middle" fill="#333" transform="rotate(-90 25.5 236.2)">S1PR2 (log<tspan font-size="4.2" dy="1.4">2</tspan><tspan dy="-1.4">)</tspan></text>
<text x="59.60" y="256.80" font-size="6.7" text-anchor="end" fill="#1a1a1a" transform="rotate(-90 59.6 256.8)" stroke="#1a1a1a" stroke-width="0.09">ABC (n=167)</text>
<text x="86.90" y="256.80" font-size="6.7" text-anchor="end" fill="#1a1a1a" transform="rotate(-90 86.9 256.8)" stroke="#1a1a1a" stroke-width="0.09">GCB (n=183)</text>
<text x="115.20" y="163.70" font-size="11.3" text-anchor="start" fill="#000" font-weight="bold">D</text>
<rect x="139.0" y="162.2" width="126.39999999999998" height="111.80000000000001" fill="none" stroke="#b8b8b8" stroke-width="0.9"/>
<line x1="137.00" y1="165.10" x2="139.00" y2="165.10" stroke="#999" stroke-width="0.8"/>
<text x="135.80" y="167.50" font-size="6.8" text-anchor="end" fill="#222" stroke="#222" stroke-width="0.09">3.9</text>
<line x1="137.00" y1="179.73" x2="139.00" y2="179.73" stroke="#999" stroke-width="0.8"/>
<text x="135.80" y="182.13" font-size="6.8" text-anchor="end" fill="#222" stroke="#222" stroke-width="0.09">3.8</text>
<line x1="137.00" y1="194.36" x2="139.00" y2="194.36" stroke="#999" stroke-width="0.8"/>
<text x="135.80" y="196.76" font-size="6.8" text-anchor="end" fill="#222" stroke="#222" stroke-width="0.09">3.7</text>
<line x1="137.00" y1="208.99" x2="139.00" y2="208.99" stroke="#999" stroke-width="0.8"/>
<text x="135.80" y="211.39" font-size="6.8" text-anchor="end" fill="#222" stroke="#222" stroke-width="0.09">3.6</text>
<line x1="137.00" y1="223.62" x2="139.00" y2="223.62" stroke="#999" stroke-width="0.8"/>
<text x="135.80" y="226.02" font-size="6.8" text-anchor="end" fill="#222" stroke="#222" stroke-width="0.09">3.5</text>
<line x1="137.00" y1="238.25" x2="139.00" y2="238.25" stroke="#999" stroke-width="0.8"/>
<text x="135.80" y="240.65" font-size="6.8" text-anchor="end" fill="#222" stroke="#222" stroke-width="0.09">3.4</text>
<line x1="137.00" y1="252.88" x2="139.00" y2="252.88" stroke="#999" stroke-width="0.8"/>
<text x="135.80" y="255.28" font-size="6.8" text-anchor="end" fill="#222" stroke="#222" stroke-width="0.09">3.3</text>
<line x1="137.00" y1="267.51" x2="139.00" y2="267.51" stroke="#999" stroke-width="0.8"/>
<text x="135.80" y="269.91" font-size="6.8" text-anchor="end" fill="#222" stroke="#222" stroke-width="0.09">3.2</text>
<line x1="153.14" y1="274.00" x2="153.14" y2="276.00" stroke="#999" stroke-width="0.8"/>
<text x="153.14" y="282.70" font-size="6.8" text-anchor="middle" fill="#222" stroke="#222" stroke-width="0.09">2.8</text>
<line x1="180.70" y1="274.00" x2="180.70" y2="276.00" stroke="#999" stroke-width="0.8"/>
<text x="180.70" y="282.70" font-size="6.8" text-anchor="middle" fill="#222" stroke="#222" stroke-width="0.09">3</text>
<line x1="208.26" y1="274.00" x2="208.26" y2="276.00" stroke="#999" stroke-width="0.8"/>
<text x="208.26" y="282.70" font-size="6.8" text-anchor="middle" fill="#222" stroke="#222" stroke-width="0.09">3.2</text>
<line x1="235.82" y1="274.00" x2="235.82" y2="276.00" stroke="#999" stroke-width="0.8"/>
<text x="235.82" y="282.70" font-size="6.8" text-anchor="middle" fill="#222" stroke="#222" stroke-width="0.09">3.4</text>
<line x1="263.38" y1="274.00" x2="263.38" y2="276.00" stroke="#999" stroke-width="0.8"/>
<text x="263.38" y="282.70" font-size="6.8" text-anchor="middle" fill="#222" stroke="#222" stroke-width="0.09">3.6</text>
<text x="203.5" y="293.8" font-size="6.6" text-anchor="middle" fill="#222" stroke="#222" stroke-width="0.09">S1PR2 (log<tspan font-size="4.4" dy="1.5">2</tspan><tspan dy="-1.5">)</tspan></text>
<text x="120.1" y="216.5" font-size="6.4" text-anchor="middle" fill="#333" transform="rotate(-90 120.1 216.5)">FOXP1(log<tspan font-size="4.2" dy="1.4">2</tspan><tspan dy="-1.4">)</tspan></text>
<circle cx="196.47" cy="214.90" r="0.8" fill="#94c84c" stroke="#62803e" stroke-width="0.4"/>
<circle cx="200.39" cy="213.59" r="0.8" fill="#94c84c" stroke="#62803e" stroke-width="0.4"/>
<circle cx="231.69" cy="190.08" r="0.8" fill="#94c84c" stroke="#62803e" stroke-width="0.4"/>
<circle cx="235.61" cy="192.04" r="0.8" fill="#94c84c" stroke="#62803e" stroke-width="0.4"/>
<circle cx="240.84" cy="194.00" r="0.8" fill="#94c84c" stroke="#62803e" stroke-width="0.4"/>
<circle cx="248.02" cy="190.08" r="0.8" fill="#94c84c" stroke="#62803e" stroke-width="0.4"/>
<circle cx="252.59" cy="196.61" r="0.8" fill="#94c84c" stroke="#62803e" stroke-width="0.4"/>
<circle cx="254.55" cy="198.57" r="0.8" fill="#94c84c" stroke="#62803e" stroke-width="0.4"/>
<circle cx="217.98" cy="196.61" r="0.8" fill="#94c84c" stroke="#62803e" stroke-width="0.4"/>
<circle cx="221.25" cy="197.27" r="0.8" fill="#94c84c" stroke="#62803e" stroke-width="0.4"/>
<circle cx="223.86" cy="195.31" r="0.8" fill="#94c84c" stroke="#62803e" stroke-width="0.4"/>
<circle cx="229.08" cy="196.22" r="0.8" fill="#94c84c" stroke="#62803e" stroke-width="0.4"/>
<circle cx="233.65" cy="197.27" r="0.8" fill="#94c84c" stroke="#62803e" stroke-width="0.4"/>
<circle cx="233.00" cy="199.23" r="0.8" fill="#94c84c" stroke="#62803e" stroke-width="0.4"/>
<circle cx="244.76" cy="198.57" r="0.8" fill="#94c84c" stroke="#62803e" stroke-width="0.4"/>
<circle cx="243.45" cy="200.53" r="0.8" fill="#94c84c" stroke="#62803e" stroke-width="0.4"/>
<circle cx="238.88" cy="200.53" r="0.8" fill="#94c84c" stroke="#62803e" stroke-width="0.4"/>
<circle cx="248.02" cy="201.18" r="0.8" fill="#94c84c" stroke="#62803e" stroke-width="0.4"/>
<circle cx="251.29" cy="201.18" r="0.8" fill="#94c84c" stroke="#62803e" stroke-width="0.4"/>
<circle cx="220.59" cy="200.53" r="0.8" fill="#94c84c" stroke="#62803e" stroke-width="0.4"/>
<circle cx="223.86" cy="201.18" r="0.8" fill="#94c84c" stroke="#62803e" stroke-width="0.4"/>
<circle cx="211.45" cy="198.57" r="0.8" fill="#94c84c" stroke="#62803e" stroke-width="0.4"/>
<circle cx="208.84" cy="201.18" r="0.8" fill="#94c84c" stroke="#62803e" stroke-width="0.4"/>
<circle cx="204.92" cy="202.49" r="0.8" fill="#94c84c" stroke="#62803e" stroke-width="0.4"/>
<circle cx="210.14" cy="203.80" r="0.8" fill="#94c84c" stroke="#62803e" stroke-width="0.4"/>
<circle cx="215.37" cy="203.80" r="0.8" fill="#94c84c" stroke="#62803e" stroke-width="0.4"/>
<circle cx="220.59" cy="205.10" r="0.8" fill="#94c84c" stroke="#62803e" stroke-width="0.4"/>
<circle cx="226.47" cy="203.80" r="0.8" fill="#94c84c" stroke="#62803e" stroke-width="0.4"/>
<circle cx="229.74" cy="205.10" r="0.8" fill="#94c84c" stroke="#62803e" stroke-width="0.4"/>
<circle cx="233.00" cy="203.80" r="0.8" fill="#94c84c" stroke="#62803e" stroke-width="0.4"/>
<circle cx="238.88" cy="203.80" r="0.8" fill="#94c84c" stroke="#62803e" stroke-width="0.4"/>
<circle cx="248.02" cy="205.10" r="0.8" fill="#94c84c" stroke="#62803e" stroke-width="0.4"/>
<circle cx="244.10" cy="209.02" r="0.8" fill="#94c84c" stroke="#62803e" stroke-width="0.4"/>
<circle cx="206.88" cy="207.06" r="0.8" fill="#94c84c" stroke="#62803e" stroke-width="0.4"/>
<circle cx="211.45" cy="208.37" r="0.8" fill="#94c84c" stroke="#62803e" stroke-width="0.4"/>
<circle cx="216.67" cy="207.06" r="0.8" fill="#94c84c" stroke="#62803e" stroke-width="0.4"/>
<circle cx="222.55" cy="207.06" r="0.8" fill="#94c84c" stroke="#62803e" stroke-width="0.4"/>
<circle cx="228.43" cy="207.06" r="0.8" fill="#94c84c" stroke="#62803e" stroke-width="0.4"/>
<circle cx="233.65" cy="207.72" r="0.8" fill="#94c84c" stroke="#62803e" stroke-width="0.4"/>
<circle cx="238.88" cy="207.06" r="0.8" fill="#94c84c" stroke="#62803e" stroke-width="0.4"/>
<circle cx="210.80" cy="211.63" r="0.8" fill="#94c84c" stroke="#62803e" stroke-width="0.4"/>
<circle cx="219.94" cy="210.98" r="0.8" fill="#94c84c" stroke="#62803e" stroke-width="0.4"/>
<circle cx="225.16" cy="212.29" r="0.8" fill="#94c84c" stroke="#62803e" stroke-width="0.4"/>
<circle cx="229.08" cy="211.63" r="0.8" fill="#94c84c" stroke="#62803e" stroke-width="0.4"/>
<circle cx="234.96" cy="211.63" r="0.8" fill="#94c84c" stroke="#62803e" stroke-width="0.4"/>
<circle cx="240.84" cy="212.29" r="0.8" fill="#94c84c" stroke="#62803e" stroke-width="0.4"/>
<circle cx="244.10" cy="214.90" r="0.8" fill="#94c84c" stroke="#62803e" stroke-width="0.4"/>
<circle cx="214.06" cy="214.90" r="0.8" fill="#94c84c" stroke="#62803e" stroke-width="0.4"/>
<circle cx="217.98" cy="215.55" r="0.8" fill="#94c84c" stroke="#62803e" stroke-width="0.4"/>
<circle cx="224.51" cy="214.90" r="0.8" fill="#94c84c" stroke="#62803e" stroke-width="0.4"/>
<circle cx="228.43" cy="216.21" r="0.8" fill="#94c84c" stroke="#62803e" stroke-width="0.4"/>
<circle cx="231.69" cy="214.90" r="0.8" fill="#94c84c" stroke="#62803e" stroke-width="0.4"/>
<circle cx="202.31" cy="214.25" r="0.8" fill="#94c84c" stroke="#62803e" stroke-width="0.4"/>
<circle cx="254.55" cy="216.86" r="0.8" fill="#94c84c" stroke="#62803e" stroke-width="0.4"/>
<circle cx="152.76" cy="230.45" r="0.8" fill="#94c84c" stroke="#62803e" stroke-width="0.4"/>
<circle cx="180.29" cy="236.64" r="0.8" fill="#94c84c" stroke="#62803e" stroke-width="0.4"/>
<circle cx="190.61" cy="229.07" r="0.8" fill="#94c84c" stroke="#62803e" stroke-width="0.4"/>
<circle cx="194.05" cy="232.24" r="0.8" fill="#94c84c" stroke="#62803e" stroke-width="0.4"/>
<circle cx="198.18" cy="216.69" r="0.8" fill="#94c84c" stroke="#62803e" stroke-width="0.4"/>
<circle cx="201.62" cy="250.41" r="0.8" fill="#94c84c" stroke="#62803e" stroke-width="0.4"/>
<circle cx="209.26" cy="217.65" r="0.8" fill="#94c84c" stroke="#62803e" stroke-width="0.4"/>
<circle cx="218.89" cy="216.00" r="0.8" fill="#94c84c" stroke="#62803e" stroke-width="0.4"/>
<circle cx="223.71" cy="216.69" r="0.8" fill="#94c84c" stroke="#62803e" stroke-width="0.4"/>
<circle cx="228.53" cy="216.69" r="0.8" fill="#94c84c" stroke="#62803e" stroke-width="0.4"/>
<circle cx="234.72" cy="218.06" r="0.8" fill="#94c84c" stroke="#62803e" stroke-width="0.4"/>
<circle cx="238.16" cy="218.75" r="0.8" fill="#94c84c" stroke="#62803e" stroke-width="0.4"/>
<circle cx="241.60" cy="218.06" r="0.8" fill="#94c84c" stroke="#62803e" stroke-width="0.4"/>
<circle cx="245.04" cy="219.44" r="0.8" fill="#94c84c" stroke="#62803e" stroke-width="0.4"/>
<circle cx="254.67" cy="217.65" r="0.8" fill="#94c84c" stroke="#62803e" stroke-width="0.4"/>
<circle cx="214.76" cy="222.19" r="0.8" fill="#94c84c" stroke="#62803e" stroke-width="0.4"/>
<circle cx="222.33" cy="220.13" r="0.8" fill="#94c84c" stroke="#62803e" stroke-width="0.4"/>
<circle cx="225.77" cy="221.51" r="0.8" fill="#94c84c" stroke="#62803e" stroke-width="0.4"/>
<circle cx="231.97" cy="221.51" r="0.8" fill="#94c84c" stroke="#62803e" stroke-width="0.4"/>
<circle cx="235.41" cy="223.57" r="0.8" fill="#94c84c" stroke="#62803e" stroke-width="0.4"/>
<circle cx="237.47" cy="224.95" r="0.8" fill="#94c84c" stroke="#62803e" stroke-width="0.4"/>
<circle cx="246.42" cy="224.95" r="0.8" fill="#94c84c" stroke="#62803e" stroke-width="0.4"/>
<circle cx="249.86" cy="222.88" r="0.8" fill="#94c84c" stroke="#62803e" stroke-width="0.4"/>
<circle cx="260.18" cy="223.57" r="0.8" fill="#94c84c" stroke="#62803e" stroke-width="0.4"/>
<circle cx="206.51" cy="227.01" r="0.8" fill="#94c84c" stroke="#62803e" stroke-width="0.4"/>
<circle cx="211.32" cy="229.76" r="0.8" fill="#94c84c" stroke="#62803e" stroke-width="0.4"/>
<circle cx="214.76" cy="229.76" r="0.8" fill="#94c84c" stroke="#62803e" stroke-width="0.4"/>
<circle cx="221.64" cy="224.95" r="0.8" fill="#94c84c" stroke="#62803e" stroke-width="0.4"/>
<circle cx="227.84" cy="225.63" r="0.8" fill="#94c84c" stroke="#62803e" stroke-width="0.4"/>
<circle cx="234.72" cy="227.70" r="0.8" fill="#94c84c" stroke="#62803e" stroke-width="0.4"/>
<circle cx="240.22" cy="231.14" r="0.8" fill="#94c84c" stroke="#62803e" stroke-width="0.4"/>
<circle cx="243.66" cy="229.76" r="0.8" fill="#94c84c" stroke="#62803e" stroke-width="0.4"/>
<circle cx="249.17" cy="231.14" r="0.8" fill="#94c84c" stroke="#62803e" stroke-width="0.4"/>
<circle cx="253.99" cy="231.83" r="0.8" fill="#94c84c" stroke="#62803e" stroke-width="0.4"/>
<circle cx="235.41" cy="231.83" r="0.8" fill="#94c84c" stroke="#62803e" stroke-width="0.4"/>
<circle cx="226.46" cy="229.76" r="0.8" fill="#94c84c" stroke="#62803e" stroke-width="0.4"/>
<circle cx="208.57" cy="235.96" r="0.8" fill="#94c84c" stroke="#62803e" stroke-width="0.4"/>
<circle cx="214.76" cy="238.02" r="0.8" fill="#94c84c" stroke="#62803e" stroke-width="0.4"/>
<circle cx="218.20" cy="239.40" r="0.8" fill="#94c84c" stroke="#62803e" stroke-width="0.4"/>
<circle cx="222.33" cy="239.40" r="0.8" fill="#94c84c" stroke="#62803e" stroke-width="0.4"/>
<circle cx="226.46" cy="239.40" r="0.8" fill="#94c84c" stroke="#62803e" stroke-width="0.4"/>
<circle cx="229.90" cy="236.64" r="0.8" fill="#94c84c" stroke="#62803e" stroke-width="0.4"/>
<circle cx="232.65" cy="240.08" r="0.8" fill="#94c84c" stroke="#62803e" stroke-width="0.4"/>
<circle cx="236.09" cy="238.71" r="0.8" fill="#94c84c" stroke="#62803e" stroke-width="0.4"/>
<circle cx="238.16" cy="238.02" r="0.8" fill="#94c84c" stroke="#62803e" stroke-width="0.4"/>
<circle cx="241.60" cy="235.96" r="0.8" fill="#94c84c" stroke="#62803e" stroke-width="0.4"/>
<circle cx="245.04" cy="235.27" r="0.8" fill="#94c84c" stroke="#62803e" stroke-width="0.4"/>
<circle cx="247.11" cy="240.77" r="0.8" fill="#94c84c" stroke="#62803e" stroke-width="0.4"/>
<circle cx="249.17" cy="241.46" r="0.8" fill="#94c84c" stroke="#62803e" stroke-width="0.4"/>
<circle cx="222.33" cy="242.84" r="0.8" fill="#94c84c" stroke="#62803e" stroke-width="0.4"/>
<circle cx="227.84" cy="244.90" r="0.8" fill="#94c84c" stroke="#62803e" stroke-width="0.4"/>
<circle cx="238.85" cy="243.53" r="0.8" fill="#94c84c" stroke="#62803e" stroke-width="0.4"/>
<circle cx="252.61" cy="248.34" r="0.8" fill="#94c84c" stroke="#62803e" stroke-width="0.4"/>
<circle cx="260.18" cy="253.85" r="0.8" fill="#94c84c" stroke="#62803e" stroke-width="0.4"/>
<circle cx="202.38" cy="250.41" r="0.8" fill="#94c84c" stroke="#62803e" stroke-width="0.4"/>
<circle cx="217.52" cy="254.54" r="0.8" fill="#94c84c" stroke="#62803e" stroke-width="0.4"/>
<circle cx="231.28" cy="257.01" r="0.8" fill="#94c84c" stroke="#62803e" stroke-width="0.4"/>
<circle cx="238.16" cy="262.52" r="0.8" fill="#94c84c" stroke="#62803e" stroke-width="0.4"/>
<circle cx="212.70" cy="270.36" r="0.8" fill="#94c84c" stroke="#62803e" stroke-width="0.4"/>
<circle cx="209.26" cy="240.08" r="0.8" fill="#94c84c" stroke="#62803e" stroke-width="0.4"/>
<circle cx="209.56" cy="212.70" r="0.8" fill="#94c84c" stroke="#62803e" stroke-width="0.4"/>
<circle cx="235.54" cy="240.99" r="0.8" fill="#94c84c" stroke="#62803e" stroke-width="0.4"/>
<circle cx="222.00" cy="241.29" r="0.8" fill="#94c84c" stroke="#62803e" stroke-width="0.4"/>
<circle cx="232.26" cy="211.31" r="0.8" fill="#94c84c" stroke="#62803e" stroke-width="0.4"/>
<circle cx="220.84" cy="204.70" r="0.8" fill="#94c84c" stroke="#62803e" stroke-width="0.4"/>
<circle cx="208.91" cy="203.29" r="0.8" fill="#94c84c" stroke="#62803e" stroke-width="0.4"/>
<circle cx="239.46" cy="244.84" r="0.8" fill="#94c84c" stroke="#62803e" stroke-width="0.4"/>
<circle cx="213.08" cy="198.38" r="0.8" fill="#94c84c" stroke="#62803e" stroke-width="0.4"/>
<circle cx="254.33" cy="222.14" r="0.8" fill="#94c84c" stroke="#62803e" stroke-width="0.4"/>
<circle cx="225.29" cy="207.63" r="0.8" fill="#94c84c" stroke="#62803e" stroke-width="0.4"/>
<circle cx="234.70" cy="236.49" r="0.8" fill="#94c84c" stroke="#62803e" stroke-width="0.4"/>
<circle cx="227.78" cy="216.67" r="0.8" fill="#94c84c" stroke="#62803e" stroke-width="0.4"/>
<circle cx="207.79" cy="240.89" r="0.8" fill="#94c84c" stroke="#62803e" stroke-width="0.4"/>
<circle cx="206.64" cy="220.18" r="0.8" fill="#94c84c" stroke="#62803e" stroke-width="0.4"/>
<circle cx="246.92" cy="202.40" r="0.8" fill="#94c84c" stroke="#62803e" stroke-width="0.4"/>
<circle cx="241.58" cy="242.54" r="0.8" fill="#94c84c" stroke="#62803e" stroke-width="0.4"/>
<circle cx="236.52" cy="234.61" r="0.8" fill="#94c84c" stroke="#62803e" stroke-width="0.4"/>
<circle cx="210.33" cy="217.29" r="0.8" fill="#94c84c" stroke="#62803e" stroke-width="0.4"/>
<circle cx="212.46" cy="237.39" r="0.8" fill="#94c84c" stroke="#62803e" stroke-width="0.4"/>
<circle cx="219.74" cy="218.20" r="0.8" fill="#94c84c" stroke="#62803e" stroke-width="0.4"/>
<circle cx="254.96" cy="237.76" r="0.8" fill="#94c84c" stroke="#62803e" stroke-width="0.4"/>
<circle cx="253.80" cy="218.22" r="0.8" fill="#94c84c" stroke="#62803e" stroke-width="0.4"/>
<circle cx="229.41" cy="231.75" r="0.8" fill="#94c84c" stroke="#62803e" stroke-width="0.4"/>
<circle cx="228.95" cy="210.26" r="0.8" fill="#94c84c" stroke="#62803e" stroke-width="0.4"/>
<circle cx="225.19" cy="203.18" r="0.8" fill="#94c84c" stroke="#62803e" stroke-width="0.4"/>
<circle cx="223.85" cy="244.43" r="0.8" fill="#94c84c" stroke="#62803e" stroke-width="0.4"/>
<circle cx="252.99" cy="226.72" r="0.8" fill="#94c84c" stroke="#62803e" stroke-width="0.4"/>
<circle cx="229.97" cy="212.59" r="0.8" fill="#94c84c" stroke="#62803e" stroke-width="0.4"/>
<circle cx="209.46" cy="209.34" r="0.8" fill="#94c84c" stroke="#62803e" stroke-width="0.4"/>
<circle cx="244.10" cy="238.50" r="0.8" fill="#94c84c" stroke="#62803e" stroke-width="0.4"/>
<circle cx="161.20" cy="165.92" r="0.8" fill="#cc2830" stroke="#7e1c22" stroke-width="0.4"/>
<circle cx="166.69" cy="166.83" r="0.8" fill="#cc2830" stroke="#7e1c22" stroke-width="0.4"/>
<circle cx="177.92" cy="170.88" r="0.8" fill="#cc2830" stroke="#7e1c22" stroke-width="0.4"/>
<circle cx="186.02" cy="169.58" r="0.8" fill="#cc2830" stroke="#7e1c22" stroke-width="0.4"/>
<circle cx="194.12" cy="169.18" r="0.8" fill="#cc2830" stroke="#7e1c22" stroke-width="0.4"/>
<circle cx="182.76" cy="172.45" r="0.8" fill="#cc2830" stroke="#7e1c22" stroke-width="0.4"/>
<circle cx="185.37" cy="174.67" r="0.8" fill="#cc2830" stroke="#7e1c22" stroke-width="0.4"/>
<circle cx="199.74" cy="174.67" r="0.8" fill="#cc2830" stroke="#7e1c22" stroke-width="0.4"/>
<circle cx="159.90" cy="175.06" r="0.8" fill="#cc2830" stroke="#7e1c22" stroke-width="0.4"/>
<circle cx="162.90" cy="176.63" r="0.8" fill="#cc2830" stroke="#7e1c22" stroke-width="0.4"/>
<circle cx="167.47" cy="175.71" r="0.8" fill="#cc2830" stroke="#7e1c22" stroke-width="0.4"/>
<circle cx="170.74" cy="177.02" r="0.8" fill="#cc2830" stroke="#7e1c22" stroke-width="0.4"/>
<circle cx="179.49" cy="176.37" r="0.8" fill="#cc2830" stroke="#7e1c22" stroke-width="0.4"/>
<circle cx="190.59" cy="175.71" r="0.8" fill="#cc2830" stroke="#7e1c22" stroke-width="0.4"/>
<circle cx="193.21" cy="175.06" r="0.8" fill="#cc2830" stroke="#7e1c22" stroke-width="0.4"/>
<circle cx="195.17" cy="177.02" r="0.8" fill="#cc2830" stroke="#7e1c22" stroke-width="0.4"/>
<circle cx="148.80" cy="178.72" r="0.8" fill="#cc2830" stroke="#7e1c22" stroke-width="0.4"/>
<circle cx="160.55" cy="179.63" r="0.8" fill="#cc2830" stroke="#7e1c22" stroke-width="0.4"/>
<circle cx="173.61" cy="181.59" r="0.8" fill="#cc2830" stroke="#7e1c22" stroke-width="0.4"/>
<circle cx="178.18" cy="180.29" r="0.8" fill="#cc2830" stroke="#7e1c22" stroke-width="0.4"/>
<circle cx="180.80" cy="181.59" r="0.8" fill="#cc2830" stroke="#7e1c22" stroke-width="0.4"/>
<circle cx="184.72" cy="180.29" r="0.8" fill="#cc2830" stroke="#7e1c22" stroke-width="0.4"/>
<circle cx="188.63" cy="179.63" r="0.8" fill="#cc2830" stroke="#7e1c22" stroke-width="0.4"/>
<circle cx="191.90" cy="178.98" r="0.8" fill="#cc2830" stroke="#7e1c22" stroke-width="0.4"/>
<circle cx="196.47" cy="180.29" r="0.8" fill="#cc2830" stroke="#7e1c22" stroke-width="0.4"/>
<circle cx="201.70" cy="182.90" r="0.8" fill="#cc2830" stroke="#7e1c22" stroke-width="0.4"/>
<circle cx="155.72" cy="184.86" r="0.8" fill="#cc2830" stroke="#7e1c22" stroke-width="0.4"/>
<circle cx="165.12" cy="186.16" r="0.8" fill="#cc2830" stroke="#7e1c22" stroke-width="0.4"/>
<circle cx="169.69" cy="184.86" r="0.8" fill="#cc2830" stroke="#7e1c22" stroke-width="0.4"/>
<circle cx="172.31" cy="183.55" r="0.8" fill="#cc2830" stroke="#7e1c22" stroke-width="0.4"/>
<circle cx="175.57" cy="185.51" r="0.8" fill="#cc2830" stroke="#7e1c22" stroke-width="0.4"/>
<circle cx="179.49" cy="184.86" r="0.8" fill="#cc2830" stroke="#7e1c22" stroke-width="0.4"/>
<circle cx="183.41" cy="183.55" r="0.8" fill="#cc2830" stroke="#7e1c22" stroke-width="0.4"/>
<circle cx="187.33" cy="184.20" r="0.8" fill="#cc2830" stroke="#7e1c22" stroke-width="0.4"/>
<circle cx="191.25" cy="181.59" r="0.8" fill="#cc2830" stroke="#7e1c22" stroke-width="0.4"/>
<circle cx="195.17" cy="185.51" r="0.8" fill="#cc2830" stroke="#7e1c22" stroke-width="0.4"/>
<circle cx="199.08" cy="184.20" r="0.8" fill="#cc2830" stroke="#7e1c22" stroke-width="0.4"/>
<circle cx="161.86" cy="188.78" r="0.8" fill="#cc2830" stroke="#7e1c22" stroke-width="0.4"/>
<circle cx="163.16" cy="189.43" r="0.8" fill="#cc2830" stroke="#7e1c22" stroke-width="0.4"/>
<circle cx="167.08" cy="192.04" r="0.8" fill="#cc2830" stroke="#7e1c22" stroke-width="0.4"/>
<circle cx="170.35" cy="191.39" r="0.8" fill="#cc2830" stroke="#7e1c22" stroke-width="0.4"/>
<circle cx="176.88" cy="189.43" r="0.8" fill="#cc2830" stroke="#7e1c22" stroke-width="0.4"/>
<circle cx="180.14" cy="189.43" r="0.8" fill="#cc2830" stroke="#7e1c22" stroke-width="0.4"/>
<circle cx="182.76" cy="188.12" r="0.8" fill="#cc2830" stroke="#7e1c22" stroke-width="0.4"/>
<circle cx="188.63" cy="188.78" r="0.8" fill="#cc2830" stroke="#7e1c22" stroke-width="0.4"/>
<circle cx="191.90" cy="192.04" r="0.8" fill="#cc2830" stroke="#7e1c22" stroke-width="0.4"/>
<circle cx="196.47" cy="189.43" r="0.8" fill="#cc2830" stroke="#7e1c22" stroke-width="0.4"/>
<circle cx="199.08" cy="188.12" r="0.8" fill="#cc2830" stroke="#7e1c22" stroke-width="0.4"/>
<circle cx="201.04" cy="192.04" r="0.8" fill="#cc2830" stroke="#7e1c22" stroke-width="0.4"/>
<circle cx="157.29" cy="193.35" r="0.8" fill="#cc2830" stroke="#7e1c22" stroke-width="0.4"/>
<circle cx="163.82" cy="194.00" r="0.8" fill="#cc2830" stroke="#7e1c22" stroke-width="0.4"/>
<circle cx="165.12" cy="195.31" r="0.8" fill="#cc2830" stroke="#7e1c22" stroke-width="0.4"/>
<circle cx="171.65" cy="196.22" r="0.8" fill="#cc2830" stroke="#7e1c22" stroke-width="0.4"/>
<circle cx="174.92" cy="196.22" r="0.8" fill="#cc2830" stroke="#7e1c22" stroke-width="0.4"/>
<circle cx="177.53" cy="193.35" r="0.8" fill="#cc2830" stroke="#7e1c22" stroke-width="0.4"/>
<circle cx="178.18" cy="197.01" r="0.8" fill="#cc2830" stroke="#7e1c22" stroke-width="0.4"/>
<circle cx="187.33" cy="193.35" r="0.8" fill="#cc2830" stroke="#7e1c22" stroke-width="0.4"/>
<circle cx="189.94" cy="194.65" r="0.8" fill="#cc2830" stroke="#7e1c22" stroke-width="0.4"/>
<circle cx="193.21" cy="197.92" r="0.8" fill="#cc2830" stroke="#7e1c22" stroke-width="0.4"/>
<circle cx="195.82" cy="195.96" r="0.8" fill="#cc2830" stroke="#7e1c22" stroke-width="0.4"/>
<circle cx="199.08" cy="197.27" r="0.8" fill="#cc2830" stroke="#7e1c22" stroke-width="0.4"/>
<circle cx="143.96" cy="197.27" r="0.8" fill="#cc2830" stroke="#7e1c22" stroke-width="0.4"/>
<circle cx="176.88" cy="203.14" r="0.8" fill="#cc2830" stroke="#7e1c22" stroke-width="0.4"/>
<circle cx="182.10" cy="204.45" r="0.8" fill="#cc2830" stroke="#7e1c22" stroke-width="0.4"/>
<circle cx="186.68" cy="203.80" r="0.8" fill="#cc2830" stroke="#7e1c22" stroke-width="0.4"/>
<circle cx="192.55" cy="201.18" r="0.8" fill="#cc2830" stroke="#7e1c22" stroke-width="0.4"/>
<circle cx="200.39" cy="202.49" r="0.8" fill="#cc2830" stroke="#7e1c22" stroke-width="0.4"/>
<circle cx="179.49" cy="207.06" r="0.8" fill="#cc2830" stroke="#7e1c22" stroke-width="0.4"/>
<circle cx="184.72" cy="207.72" r="0.8" fill="#cc2830" stroke="#7e1c22" stroke-width="0.4"/>
<circle cx="189.94" cy="207.06" r="0.8" fill="#cc2830" stroke="#7e1c22" stroke-width="0.4"/>
<circle cx="193.86" cy="208.37" r="0.8" fill="#cc2830" stroke="#7e1c22" stroke-width="0.4"/>
<circle cx="199.74" cy="207.06" r="0.8" fill="#cc2830" stroke="#7e1c22" stroke-width="0.4"/>
<circle cx="178.18" cy="213.99" r="0.8" fill="#cc2830" stroke="#7e1c22" stroke-width="0.4"/>
<circle cx="180.80" cy="212.29" r="0.8" fill="#cc2830" stroke="#7e1c22" stroke-width="0.4"/>
<circle cx="166.43" cy="215.55" r="0.8" fill="#cc2830" stroke="#7e1c22" stroke-width="0.4"/>
<circle cx="189.29" cy="214.25" r="0.8" fill="#cc2830" stroke="#7e1c22" stroke-width="0.4"/>
<circle cx="214.06" cy="171.80" r="0.8" fill="#cc2830" stroke="#7e1c22" stroke-width="0.4"/>
<circle cx="219.29" cy="175.06" r="0.8" fill="#cc2830" stroke="#7e1c22" stroke-width="0.4"/>
<circle cx="224.90" cy="179.63" r="0.8" fill="#cc2830" stroke="#7e1c22" stroke-width="0.4"/>
<circle cx="226.86" cy="182.90" r="0.8" fill="#cc2830" stroke="#7e1c22" stroke-width="0.4"/>
<circle cx="227.78" cy="186.56" r="0.8" fill="#cc2830" stroke="#7e1c22" stroke-width="0.4"/>
<circle cx="208.18" cy="180.94" r="0.8" fill="#cc2830" stroke="#7e1c22" stroke-width="0.4"/>
<circle cx="201.65" cy="182.90" r="0.8" fill="#cc2830" stroke="#7e1c22" stroke-width="0.4"/>
<circle cx="206.88" cy="183.55" r="0.8" fill="#cc2830" stroke="#7e1c22" stroke-width="0.4"/>
<circle cx="203.61" cy="186.82" r="0.8" fill="#cc2830" stroke="#7e1c22" stroke-width="0.4"/>
<circle cx="216.67" cy="182.25" r="0.8" fill="#cc2830" stroke="#7e1c22" stroke-width="0.4"/>
<circle cx="216.02" cy="186.16" r="0.8" fill="#cc2830" stroke="#7e1c22" stroke-width="0.4"/>
<circle cx="218.63" cy="186.82" r="0.8" fill="#cc2830" stroke="#7e1c22" stroke-width="0.4"/>
<circle cx="214.06" cy="188.78" r="0.8" fill="#cc2830" stroke="#7e1c22" stroke-width="0.4"/>
<circle cx="217.33" cy="190.08" r="0.8" fill="#cc2830" stroke="#7e1c22" stroke-width="0.4"/>
<circle cx="206.22" cy="190.08" r="0.8" fill="#cc2830" stroke="#7e1c22" stroke-width="0.4"/>
<circle cx="208.18" cy="190.74" r="0.8" fill="#cc2830" stroke="#7e1c22" stroke-width="0.4"/>
<circle cx="204.92" cy="192.69" r="0.8" fill="#cc2830" stroke="#7e1c22" stroke-width="0.4"/>
<circle cx="207.53" cy="193.35" r="0.8" fill="#cc2830" stroke="#7e1c22" stroke-width="0.4"/>
<circle cx="210.14" cy="193.35" r="0.8" fill="#cc2830" stroke="#7e1c22" stroke-width="0.4"/>
<circle cx="212.76" cy="192.69" r="0.8" fill="#cc2830" stroke="#7e1c22" stroke-width="0.4"/>
<circle cx="203.61" cy="194.65" r="0.8" fill="#cc2830" stroke="#7e1c22" stroke-width="0.4"/>
<circle cx="206.88" cy="195.31" r="0.8" fill="#cc2830" stroke="#7e1c22" stroke-width="0.4"/>
<circle cx="208.84" cy="196.61" r="0.8" fill="#cc2830" stroke="#7e1c22" stroke-width="0.4"/>
<circle cx="204.92" cy="197.27" r="0.8" fill="#cc2830" stroke="#7e1c22" stroke-width="0.4"/>
<circle cx="220.59" cy="190.74" r="0.8" fill="#cc2830" stroke="#7e1c22" stroke-width="0.4"/>
<circle cx="221.90" cy="187.47" r="0.8" fill="#cc2830" stroke="#7e1c22" stroke-width="0.4"/>
<circle cx="157.58" cy="218.06" r="0.8" fill="#cc2830" stroke="#7e1c22" stroke-width="0.4"/>
<circle cx="166.53" cy="216.00" r="0.8" fill="#cc2830" stroke="#7e1c22" stroke-width="0.4"/>
<circle cx="172.72" cy="218.48" r="0.8" fill="#cc2830" stroke="#7e1c22" stroke-width="0.4"/>
<circle cx="194.05" cy="217.65" r="0.8" fill="#cc2830" stroke="#7e1c22" stroke-width="0.4"/>
<circle cx="199.56" cy="222.19" r="0.8" fill="#cc2830" stroke="#7e1c22" stroke-width="0.4"/>
<circle cx="199.56" cy="225.63" r="0.8" fill="#cc2830" stroke="#7e1c22" stroke-width="0.4"/>
<circle cx="168.59" cy="231.41" r="0.8" fill="#cc2830" stroke="#7e1c22" stroke-width="0.4"/>
<circle cx="175.47" cy="236.37" r="0.8" fill="#cc2830" stroke="#7e1c22" stroke-width="0.4"/>
<circle cx="189.92" cy="239.12" r="0.8" fill="#cc2830" stroke="#7e1c22" stroke-width="0.4"/>
<circle cx="195.43" cy="241.46" r="0.8" fill="#cc2830" stroke="#7e1c22" stroke-width="0.4"/>
<circle cx="184.42" cy="228.39" r="0.8" fill="#cc2830" stroke="#7e1c22" stroke-width="0.4"/>
<circle cx="182.35" cy="231.14" r="0.8" fill="#cc2830" stroke="#7e1c22" stroke-width="0.4"/>
<circle cx="203.75" cy="224.95" r="0.8" fill="#cc2830" stroke="#7e1c22" stroke-width="0.4"/>
<circle cx="210.63" cy="257.01" r="0.8" fill="#cc2830" stroke="#7e1c22" stroke-width="0.4"/>
<circle cx="208.57" cy="223.57" r="0.8" fill="#cc2830" stroke="#7e1c22" stroke-width="0.4"/>
<circle cx="211.32" cy="221.51" r="0.8" fill="#cc2830" stroke="#7e1c22" stroke-width="0.4"/>
<circle cx="193.57" cy="191.29" r="0.8" fill="#cc2830" stroke="#7e1c22" stroke-width="0.4"/>
<circle cx="197.88" cy="196.50" r="0.8" fill="#cc2830" stroke="#7e1c22" stroke-width="0.4"/>
<circle cx="196.50" cy="195.98" r="0.8" fill="#cc2830" stroke="#7e1c22" stroke-width="0.4"/>
<circle cx="178.73" cy="184.11" r="0.8" fill="#cc2830" stroke="#7e1c22" stroke-width="0.4"/>
<circle cx="201.58" cy="188.87" r="0.8" fill="#cc2830" stroke="#7e1c22" stroke-width="0.4"/>
<circle cx="200.52" cy="174.94" r="0.8" fill="#cc2830" stroke="#7e1c22" stroke-width="0.4"/>
<circle cx="189.73" cy="178.41" r="0.8" fill="#cc2830" stroke="#7e1c22" stroke-width="0.4"/>
<circle cx="191.59" cy="186.92" r="0.8" fill="#cc2830" stroke="#7e1c22" stroke-width="0.4"/>
<circle cx="178.33" cy="177.63" r="0.8" fill="#cc2830" stroke="#7e1c22" stroke-width="0.4"/>
<circle cx="184.99" cy="195.82" r="0.8" fill="#cc2830" stroke="#7e1c22" stroke-width="0.4"/>
<circle cx="197.14" cy="176.15" r="0.8" fill="#cc2830" stroke="#7e1c22" stroke-width="0.4"/>
<circle cx="197.93" cy="175.61" r="0.8" fill="#cc2830" stroke="#7e1c22" stroke-width="0.4"/>
<circle cx="193.44" cy="175.29" r="0.8" fill="#cc2830" stroke="#7e1c22" stroke-width="0.4"/>
<circle cx="178.04" cy="194.66" r="0.8" fill="#cc2830" stroke="#7e1c22" stroke-width="0.4"/>
<circle cx="183.24" cy="177.60" r="0.8" fill="#cc2830" stroke="#7e1c22" stroke-width="0.4"/>
<circle cx="202.56" cy="194.68" r="0.8" fill="#cc2830" stroke="#7e1c22" stroke-width="0.4"/>
<circle cx="185.23" cy="197.00" r="0.8" fill="#cc2830" stroke="#7e1c22" stroke-width="0.4"/>
<circle cx="191.48" cy="189.62" r="0.8" fill="#cc2830" stroke="#7e1c22" stroke-width="0.4"/>
<circle cx="183.12" cy="196.47" r="0.8" fill="#cc2830" stroke="#7e1c22" stroke-width="0.4"/>
<circle cx="195.27" cy="197.13" r="0.8" fill="#cc2830" stroke="#7e1c22" stroke-width="0.4"/>
<circle cx="200.34" cy="179.77" r="0.8" fill="#cc2830" stroke="#7e1c22" stroke-width="0.4"/>
<circle cx="187.03" cy="176.31" r="0.8" fill="#cc2830" stroke="#7e1c22" stroke-width="0.4"/>
<circle cx="203.21" cy="179.30" r="0.8" fill="#cc2830" stroke="#7e1c22" stroke-width="0.4"/>
<circle cx="206.63" cy="190.06" r="0.8" fill="#cc2830" stroke="#7e1c22" stroke-width="0.4"/>
<circle cx="200.07" cy="191.56" r="0.8" fill="#cc2830" stroke="#7e1c22" stroke-width="0.4"/>
<circle cx="207.43" cy="184.20" r="0.8" fill="#cc2830" stroke="#7e1c22" stroke-width="0.4"/>
<circle cx="218.01" cy="187.61" r="0.8" fill="#cc2830" stroke="#7e1c22" stroke-width="0.4"/>
<circle cx="206.95" cy="187.62" r="0.8" fill="#cc2830" stroke="#7e1c22" stroke-width="0.4"/>
<circle cx="215.50" cy="179.14" r="0.8" fill="#cc2830" stroke="#7e1c22" stroke-width="0.4"/>
<circle cx="221.45" cy="178.46" r="0.8" fill="#cc2830" stroke="#7e1c22" stroke-width="0.4"/>
<circle cx="216.50" cy="194.90" r="0.8" fill="#cc2830" stroke="#7e1c22" stroke-width="0.4"/>
<circle cx="200.40" cy="193.75" r="0.8" fill="#cc2830" stroke="#7e1c22" stroke-width="0.4"/>
<circle cx="208.06" cy="189.57" r="0.8" fill="#cc2830" stroke="#7e1c22" stroke-width="0.4"/>
<circle cx="200.20" cy="178.93" r="0.8" fill="#cc2830" stroke="#7e1c22" stroke-width="0.4"/>
<circle cx="161.98" cy="194.10" r="0.8" fill="#cc2830" stroke="#7e1c22" stroke-width="0.4"/>
<circle cx="162.32" cy="190.11" r="0.8" fill="#cc2830" stroke="#7e1c22" stroke-width="0.4"/>
<circle cx="178.45" cy="193.84" r="0.8" fill="#cc2830" stroke="#7e1c22" stroke-width="0.4"/>
<circle cx="165.58" cy="182.10" r="0.8" fill="#cc2830" stroke="#7e1c22" stroke-width="0.4"/>
<circle cx="169.54" cy="190.51" r="0.8" fill="#cc2830" stroke="#7e1c22" stroke-width="0.4"/>
<circle cx="160.38" cy="189.97" r="0.8" fill="#cc2830" stroke="#7e1c22" stroke-width="0.4"/>
<circle cx="175.54" cy="192.19" r="0.8" fill="#cc2830" stroke="#7e1c22" stroke-width="0.4"/>
<circle cx="158.81" cy="193.92" r="0.8" fill="#cc2830" stroke="#7e1c22" stroke-width="0.4"/>
<circle cx="143.90" cy="252.60" r="1.5" fill="#8a1a22"/>
<text x="147.40" y="255.60" font-size="7.0" text-anchor="start" fill="#222" stroke="#222" stroke-width="0.09">ABC (n=167)</text>
<circle cx="143.90" cy="260.90" r="1.2" fill="#7a8a6a"/>
<text x="147.40" y="263.40" font-size="7.0" text-anchor="start" fill="#222" stroke="#222" stroke-width="0.09">GCB (n=183)</text>
<text x="141.40" y="271.50" font-size="7.0" text-anchor="start" fill="#222" stroke="#222" stroke-width="0.09">r=-0.46</text>
<text x="277.60" y="163.70" font-size="11.3" text-anchor="start" fill="#000" font-weight="bold">E</text>
<line x1="308.20" y1="170.30" x2="308.20" y2="206.20" stroke="#1a1a1a" stroke-width="1.15"/>
<line x1="308.20" y1="206.20" x2="362.00" y2="206.20" stroke="#1a1a1a" stroke-width="1.15"/>
<line x1="305.70" y1="170.30" x2="308.20" y2="170.30" stroke="#1a1a1a" stroke-width="0.9"/>
<text x="305.40" y="172.90" font-size="7.2" text-anchor="end" fill="#1a1a1a" stroke="#1a1a1a" stroke-width="0.09">15</text>
<line x1="305.70" y1="188.25" x2="308.20" y2="188.25" stroke="#1a1a1a" stroke-width="0.9"/>
<text x="305.40" y="190.85" font-size="7.2" text-anchor="end" fill="#1a1a1a" stroke="#1a1a1a" stroke-width="0.09">10</text>
<line x1="305.70" y1="206.20" x2="308.20" y2="206.20" stroke="#1a1a1a" stroke-width="0.9"/>
<text x="305.40" y="208.80" font-size="7.2" text-anchor="end" fill="#1a1a1a" stroke="#1a1a1a" stroke-width="0.09">5</text>
<line x1="321.50" y1="206.20" x2="321.50" y2="208.20" stroke="#1a1a1a" stroke-width="0.9"/>
<line x1="348.90" y1="206.20" x2="348.90" y2="208.20" stroke="#1a1a1a" stroke-width="0.9"/>
<line x1="321.50" y1="175.80" x2="321.50" y2="181.20" stroke="#222" stroke-width="1.05"/>
<line x1="321.50" y1="186.50" x2="321.50" y2="198.50" stroke="#222" stroke-width="1.05"/>
<line x1="317.00" y1="175.80" x2="327.00" y2="175.80" stroke="#222" stroke-width="1.05"/>
<line x1="317.00" y1="198.50" x2="327.00" y2="198.50" stroke="#222" stroke-width="1.05"/>
<rect x="311.60" y="181.20" width="19.80" height="5.30" fill="#c0282d" stroke="#222" stroke-width="0.9"/>
<line x1="311.60" y1="183.80" x2="331.40" y2="183.80" stroke="#222" stroke-width="0.9"/>
<line x1="348.90" y1="178.50" x2="348.90" y2="184.30" stroke="#222" stroke-width="1.05"/>
<line x1="348.90" y1="190.00" x2="348.90" y2="197.80" stroke="#222" stroke-width="1.05"/>
<line x1="344.60" y1="178.50" x2="353.80" y2="178.50" stroke="#222" stroke-width="1.05"/>
<line x1="344.60" y1="197.80" x2="353.80" y2="197.80" stroke="#222" stroke-width="1.05"/>
<rect x="339.30" y="184.30" width="19.20" height="5.70" fill="#8dc63f" stroke="#222" stroke-width="0.9"/>
<line x1="339.30" y1="187.40" x2="358.50" y2="187.40" stroke="#222" stroke-width="0.9"/>
<line x1="321.50" y1="172.90" x2="350.00" y2="172.90" stroke="#1a1a1a" stroke-width="1.2"/>
<text x="335.80" y="172.00" font-size="6.8" text-anchor="middle" fill="#222" stroke="#222" stroke-width="0.09">***</text>
<text x="290.6" y="185.7" font-size="6.5" text-anchor="middle" fill="#333" transform="rotate(-90 290.6 185.7)">FOXP1(log<tspan font-size="4.2" dy="1.4">2</tspan><tspan dy="-1.4">)</tspan></text>
<line x1="308.20" y1="217.30" x2="308.20" y2="254.50" stroke="#1a1a1a" stroke-width="1.15"/>
<line x1="308.20" y1="254.50" x2="362.90" y2="254.50" stroke="#1a1a1a" stroke-width="1.15"/>
<line x1="305.70" y1="217.30" x2="308.20" y2="217.30" stroke="#1a1a1a" stroke-width="0.9"/>
<text x="305.40" y="219.90" font-size="7.2" text-anchor="end" fill="#1a1a1a" stroke="#1a1a1a" stroke-width="0.09">10</text>
<line x1="305.70" y1="224.74" x2="308.20" y2="224.74" stroke="#1a1a1a" stroke-width="0.9"/>
<text x="305.40" y="227.34" font-size="7.2" text-anchor="end" fill="#1a1a1a" stroke="#1a1a1a" stroke-width="0.09">8</text>
<line x1="305.70" y1="232.18" x2="308.20" y2="232.18" stroke="#1a1a1a" stroke-width="0.9"/>
<text x="305.40" y="234.78" font-size="7.2" text-anchor="end" fill="#1a1a1a" stroke="#1a1a1a" stroke-width="0.09">6</text>
<line x1="305.70" y1="239.62" x2="308.20" y2="239.62" stroke="#1a1a1a" stroke-width="0.9"/>
<text x="305.40" y="242.22" font-size="7.2" text-anchor="end" fill="#1a1a1a" stroke="#1a1a1a" stroke-width="0.09">4</text>
<line x1="305.70" y1="247.06" x2="308.20" y2="247.06" stroke="#1a1a1a" stroke-width="0.9"/>
<text x="305.40" y="249.66" font-size="7.2" text-anchor="end" fill="#1a1a1a" stroke="#1a1a1a" stroke-width="0.09">2</text>
<line x1="305.70" y1="254.50" x2="308.20" y2="254.50" stroke="#1a1a1a" stroke-width="0.9"/>
<text x="305.40" y="257.10" font-size="7.2" text-anchor="end" fill="#1a1a1a" stroke="#1a1a1a" stroke-width="0.09">0</text>
<line x1="322.00" y1="254.50" x2="322.00" y2="256.50" stroke="#1a1a1a" stroke-width="0.9"/>
<line x1="349.50" y1="254.50" x2="349.50" y2="256.50" stroke="#1a1a1a" stroke-width="0.9"/>
<line x1="322.00" y1="225.10" x2="322.00" y2="234.80" stroke="#222" stroke-width="1.05"/>
<line x1="322.00" y1="244.00" x2="322.00" y2="250.30" stroke="#222" stroke-width="1.05"/>
<line x1="317.80" y1="225.10" x2="327.20" y2="225.10" stroke="#222" stroke-width="1.05"/>
<line x1="317.80" y1="250.30" x2="327.20" y2="250.30" stroke="#222" stroke-width="1.05"/>
<rect x="312.60" y="234.80" width="18.80" height="9.20" fill="#c0282d" stroke="#222" stroke-width="0.9"/>
<line x1="312.60" y1="239.40" x2="331.40" y2="239.40" stroke="#222" stroke-width="0.9"/>
<line x1="349.50" y1="223.20" x2="349.50" y2="230.30" stroke="#222" stroke-width="1.05"/>
<line x1="349.50" y1="241.90" x2="349.50" y2="252.00" stroke="#222" stroke-width="1.05"/>
<line x1="345.00" y1="223.20" x2="353.80" y2="223.20" stroke="#222" stroke-width="1.05"/>
<line x1="345.00" y1="252.00" x2="353.80" y2="252.00" stroke="#222" stroke-width="1.05"/>
<rect x="340.30" y="230.30" width="18.40" height="11.60" fill="#8dc63f" stroke="#222" stroke-width="0.9"/>
<line x1="340.30" y1="235.20" x2="358.70" y2="235.20" stroke="#222" stroke-width="0.9"/>
<line x1="322.00" y1="220.60" x2="349.20" y2="220.60" stroke="#1a1a1a" stroke-width="1.2"/>
<text x="335.60" y="219.70" font-size="6.8" text-anchor="middle" fill="#222" stroke="#222" stroke-width="0.09">***</text>
<text x="290.6" y="234.4" font-size="6.6" text-anchor="middle" fill="#333" transform="rotate(-90 290.6 234.4)">S1PR2 (log<tspan font-size="4.2" dy="1.4">2</tspan><tspan dy="-1.4">)</tspan></text>
<text x="325.00" y="256.70" font-size="6.7" text-anchor="end" fill="#1a1a1a" transform="rotate(-90 325.0 256.7)" stroke="#1a1a1a" stroke-width="0.09">ABC (n=237)</text>
<text x="352.00" y="256.70" font-size="6.7" text-anchor="end" fill="#1a1a1a" transform="rotate(-90 352.0 256.7)" stroke="#1a1a1a" stroke-width="0.09">GCB (n=259)</text>
<text x="377.60" y="163.80" font-size="11.3" text-anchor="start" fill="#000" font-weight="bold">F</text>
<line x1="398.70" y1="161.50" x2="398.70" y2="273.60" stroke="#888" stroke-width="0.8"/>
<line x1="398.70" y1="273.60" x2="511.50" y2="273.60" stroke="#888" stroke-width="0.8"/>
<line x1="511.20" y1="161.50" x2="511.20" y2="273.60" stroke="#dcdcdc" stroke-width="0.7"/>
<line x1="397.20" y1="271.80" x2="398.70" y2="271.80" stroke="#888" stroke-width="0.7"/>
<text x="396.70" y="274.20" font-size="6.9" text-anchor="end" fill="#3a3a3a">7</text>
<line x1="397.20" y1="256.09" x2="398.70" y2="256.09" stroke="#888" stroke-width="0.7"/>
<text x="396.70" y="258.49" font-size="6.9" text-anchor="end" fill="#3a3a3a">8</text>
<line x1="397.20" y1="240.38" x2="398.70" y2="240.38" stroke="#888" stroke-width="0.7"/>
<text x="396.70" y="242.78" font-size="6.9" text-anchor="end" fill="#3a3a3a">9</text>
<line x1="397.20" y1="224.67" x2="398.70" y2="224.67" stroke="#888" stroke-width="0.7"/>
<text x="396.70" y="227.07" font-size="6.9" text-anchor="end" fill="#3a3a3a">10</text>
<line x1="397.20" y1="208.96" x2="398.70" y2="208.96" stroke="#888" stroke-width="0.7"/>
<text x="396.70" y="211.36" font-size="6.9" text-anchor="end" fill="#3a3a3a">11</text>
<line x1="397.20" y1="193.25" x2="398.70" y2="193.25" stroke="#888" stroke-width="0.7"/>
<text x="396.70" y="195.65" font-size="6.9" text-anchor="end" fill="#3a3a3a">12</text>
<line x1="397.20" y1="177.54" x2="398.70" y2="177.54" stroke="#888" stroke-width="0.7"/>
<text x="396.70" y="179.94" font-size="6.9" text-anchor="end" fill="#3a3a3a">13</text>
<line x1="397.20" y1="161.83" x2="398.70" y2="161.83" stroke="#888" stroke-width="0.7"/>
<text x="396.70" y="164.23" font-size="6.9" text-anchor="end" fill="#3a3a3a">14</text>
<line x1="400.00" y1="273.60" x2="400.00" y2="275.10" stroke="#888" stroke-width="0.7"/>
<text x="400.00" y="280.0" font-size="6.9" text-anchor="middle" fill="#3a3a3a">0</text>
<line x1="412.29" y1="273.60" x2="412.29" y2="275.10" stroke="#888" stroke-width="0.7"/>
<text x="412.29" y="280.0" font-size="6.9" text-anchor="middle" fill="#3a3a3a">1</text>
<line x1="424.58" y1="273.60" x2="424.58" y2="275.10" stroke="#888" stroke-width="0.7"/>
<text x="424.58" y="280.0" font-size="6.9" text-anchor="middle" fill="#3a3a3a">2</text>
<line x1="436.87" y1="273.60" x2="436.87" y2="275.10" stroke="#888" stroke-width="0.7"/>
<text x="436.87" y="280.0" font-size="6.9" text-anchor="middle" fill="#3a3a3a">3</text>
<line x1="449.16" y1="273.60" x2="449.16" y2="275.10" stroke="#888" stroke-width="0.7"/>
<text x="449.16" y="280.0" font-size="6.9" text-anchor="middle" fill="#3a3a3a">4</text>
<line x1="461.45" y1="273.60" x2="461.45" y2="275.10" stroke="#888" stroke-width="0.7"/>
<text x="461.45" y="280.0" font-size="6.9" text-anchor="middle" fill="#3a3a3a">5</text>
<line x1="473.74" y1="273.60" x2="473.74" y2="275.10" stroke="#888" stroke-width="0.7"/>
<text x="473.74" y="280.0" font-size="6.9" text-anchor="middle" fill="#3a3a3a">6</text>
<line x1="486.03" y1="273.60" x2="486.03" y2="275.10" stroke="#888" stroke-width="0.7"/>
<text x="486.03" y="280.0" font-size="6.9" text-anchor="middle" fill="#3a3a3a">7</text>
<line x1="498.32" y1="273.60" x2="498.32" y2="275.10" stroke="#888" stroke-width="0.7"/>
<text x="498.32" y="280.0" font-size="6.9" text-anchor="middle" fill="#3a3a3a">8</text>
<line x1="510.61" y1="273.60" x2="510.61" y2="275.10" stroke="#888" stroke-width="0.7"/>
<text x="510.61" y="280.0" font-size="6.9" text-anchor="middle" fill="#3a3a3a">9</text>
<text x="454.3" y="293.6" font-size="6.6" text-anchor="middle" fill="#333">S1PR2 (log<tspan font-size="4.2" dy="1.4">2</tspan><tspan dy="-1.4">)</tspan></text>
<text x="382.4" y="217.0" font-size="6.3" text-anchor="middle" fill="#333" transform="rotate(-90 382.4 217.0)">FOXP1(log<tspan font-size="4.2" dy="1.4">2</tspan><tspan dy="-1.4">)</tspan></text>
<line x1="412.29" y1="162.00" x2="412.29" y2="273.60" stroke="#f4f4f4" stroke-width="0.6"/>
<line x1="424.58" y1="162.00" x2="424.58" y2="273.60" stroke="#f4f4f4" stroke-width="0.6"/>
<line x1="436.87" y1="162.00" x2="436.87" y2="273.60" stroke="#f4f4f4" stroke-width="0.6"/>
<line x1="449.16" y1="162.00" x2="449.16" y2="273.60" stroke="#f4f4f4" stroke-width="0.6"/>
<line x1="461.45" y1="162.00" x2="461.45" y2="273.60" stroke="#f4f4f4" stroke-width="0.6"/>
<line x1="473.74" y1="162.00" x2="473.74" y2="273.60" stroke="#f4f4f4" stroke-width="0.6"/>
<line x1="486.03" y1="162.00" x2="486.03" y2="273.60" stroke="#f4f4f4" stroke-width="0.6"/>
<line x1="498.32" y1="162.00" x2="498.32" y2="273.60" stroke="#f4f4f4" stroke-width="0.6"/>
<line x1="510.61" y1="162.00" x2="510.61" y2="273.60" stroke="#f4f4f4" stroke-width="0.6"/>
<line x1="398.70" y1="256.09" x2="511.00" y2="256.09" stroke="#f6f6f6" stroke-width="0.6"/>
<line x1="398.70" y1="240.38" x2="511.00" y2="240.38" stroke="#f6f6f6" stroke-width="0.6"/>
<line x1="398.70" y1="224.67" x2="511.00" y2="224.67" stroke="#f6f6f6" stroke-width="0.6"/>
<line x1="398.70" y1="208.96" x2="511.00" y2="208.96" stroke="#f6f6f6" stroke-width="0.6"/>
<line x1="398.70" y1="193.25" x2="511.00" y2="193.25" stroke="#f6f6f6" stroke-width="0.6"/>
<line x1="398.70" y1="177.54" x2="511.00" y2="177.54" stroke="#f6f6f6" stroke-width="0.6"/>
<line x1="398.70" y1="161.83" x2="511.00" y2="161.83" stroke="#f6f6f6" stroke-width="0.6"/>
<circle cx="427.20" cy="212.45" r="0.72" fill="#62965a"/>
<circle cx="454.53" cy="237.77" r="0.72" fill="#62965a"/>
<circle cx="452.90" cy="239.11" r="0.72" fill="#62965a"/>
<circle cx="461.66" cy="216.36" r="0.72" fill="#62965a"/>
<circle cx="457.58" cy="242.32" r="0.72" fill="#b04850"/>
<circle cx="467.05" cy="245.65" r="0.72" fill="#b04850"/>
<circle cx="482.96" cy="233.65" r="0.72" fill="#b04850"/>
<circle cx="436.16" cy="218.01" r="0.72" fill="#b04850"/>
<circle cx="464.74" cy="191.18" r="0.72" fill="#62965a"/>
<circle cx="451.04" cy="191.33" r="0.72" fill="#b04850"/>
<circle cx="484.99" cy="200.31" r="0.72" fill="#62965a"/>
<circle cx="433.97" cy="233.71" r="0.72" fill="#b04850"/>
<circle cx="455.81" cy="181.79" r="0.72" fill="#62965a"/>
<circle cx="487.68" cy="232.25" r="0.72" fill="#b04850"/>
<circle cx="491.40" cy="182.25" r="0.72" fill="#b04850"/>
<circle cx="430.50" cy="239.39" r="0.72" fill="#b04850"/>
<circle cx="475.95" cy="233.06" r="0.72" fill="#62965a"/>
<circle cx="442.49" cy="182.29" r="0.72" fill="#b04850"/>
<circle cx="480.50" cy="228.90" r="0.72" fill="#b04850"/>
<circle cx="488.64" cy="252.25" r="0.72" fill="#62965a"/>
<circle cx="476.66" cy="175.67" r="0.72" fill="#b04850"/>
<circle cx="464.62" cy="244.57" r="0.72" fill="#b04850"/>
<circle cx="440.49" cy="197.52" r="0.72" fill="#b04850"/>
<circle cx="451.37" cy="238.40" r="0.72" fill="#62965a"/>
<circle cx="412.52" cy="193.07" r="0.72" fill="#b04850"/>
<circle cx="479.84" cy="177.93" r="0.72" fill="#b04850"/>
<circle cx="467.91" cy="225.28" r="0.72" fill="#b04850"/>
<circle cx="457.79" cy="185.62" r="0.72" fill="#62965a"/>
<circle cx="437.86" cy="238.92" r="0.72" fill="#62965a"/>
<circle cx="465.78" cy="220.91" r="0.72" fill="#b04850"/>
<circle cx="479.28" cy="217.91" r="0.72" fill="#b04850"/>
<circle cx="430.99" cy="231.89" r="0.72" fill="#b04850"/>
<circle cx="436.81" cy="200.88" r="0.72" fill="#b04850"/>
<circle cx="480.54" cy="232.82" r="0.72" fill="#62965a"/>
<circle cx="454.68" cy="205.41" r="0.72" fill="#62965a"/>
<circle cx="457.20" cy="205.09" r="0.72" fill="#62965a"/>
<circle cx="431.34" cy="204.18" r="0.72" fill="#62965a"/>
<circle cx="446.03" cy="179.15" r="0.72" fill="#b04850"/>
<circle cx="473.29" cy="178.47" r="0.72" fill="#b04850"/>
<circle cx="456.26" cy="195.65" r="0.72" fill="#b04850"/>
<circle cx="493.56" cy="232.44" r="0.72" fill="#b04850"/>
<circle cx="461.16" cy="256.06" r="0.72" fill="#62965a"/>
<circle cx="452.64" cy="190.61" r="0.72" fill="#b04850"/>
<circle cx="445.47" cy="210.74" r="0.72" fill="#62965a"/>
<circle cx="496.28" cy="220.55" r="0.72" fill="#b04850"/>
<circle cx="465.50" cy="214.88" r="0.72" fill="#62965a"/>
<circle cx="456.17" cy="187.55" r="0.72" fill="#b04850"/>
<circle cx="437.13" cy="214.43" r="0.72" fill="#b04850"/>
<circle cx="487.07" cy="239.25" r="0.72" fill="#62965a"/>
<circle cx="469.26" cy="240.04" r="0.72" fill="#b04850"/>
<circle cx="448.29" cy="216.90" r="0.72" fill="#62965a"/>
<circle cx="436.62" cy="202.89" r="0.72" fill="#b04850"/>
<circle cx="445.52" cy="208.61" r="0.72" fill="#b04850"/>
<circle cx="456.90" cy="233.47" r="0.72" fill="#62965a"/>
<circle cx="419.81" cy="182.13" r="0.72" fill="#62965a"/>
<circle cx="431.81" cy="193.27" r="0.72" fill="#b04850"/>
<circle cx="448.13" cy="223.32" r="0.72" fill="#b04850"/>
<circle cx="462.25" cy="230.79" r="0.72" fill="#62965a"/>
<circle cx="465.79" cy="217.67" r="0.72" fill="#62965a"/>
<circle cx="464.47" cy="204.94" r="0.72" fill="#b04850"/>
<circle cx="423.27" cy="215.71" r="0.72" fill="#b04850"/>
<circle cx="424.20" cy="194.28" r="0.72" fill="#b04850"/>
<circle cx="464.62" cy="210.48" r="0.72" fill="#62965a"/>
<circle cx="497.89" cy="170.00" r="0.72" fill="#b04850"/>
<circle cx="472.96" cy="245.78" r="0.72" fill="#b04850"/>
<circle cx="462.84" cy="249.40" r="0.72" fill="#b04850"/>
<circle cx="462.00" cy="213.68" r="0.72" fill="#62965a"/>
<circle cx="471.34" cy="218.96" r="0.72" fill="#b04850"/>
<circle cx="465.60" cy="208.47" r="0.72" fill="#b04850"/>
<circle cx="485.35" cy="223.00" r="0.72" fill="#62965a"/>
<circle cx="493.71" cy="191.24" r="0.72" fill="#b04850"/>
<circle cx="458.52" cy="190.43" r="0.72" fill="#62965a"/>
<circle cx="462.74" cy="190.88" r="0.72" fill="#b04850"/>
<circle cx="474.55" cy="220.11" r="0.72" fill="#62965a"/>
<circle cx="431.53" cy="182.34" r="0.72" fill="#b04850"/>
<circle cx="468.95" cy="209.71" r="0.72" fill="#62965a"/>
<circle cx="490.21" cy="239.95" r="0.72" fill="#62965a"/>
<circle cx="457.76" cy="240.90" r="0.72" fill="#62965a"/>
<circle cx="493.63" cy="247.85" r="0.72" fill="#b04850"/>
<circle cx="503.71" cy="238.69" r="0.72" fill="#62965a"/>
<circle cx="497.68" cy="183.91" r="0.72" fill="#62965a"/>
<circle cx="422.93" cy="179.33" r="0.72" fill="#62965a"/>
<circle cx="504.70" cy="205.62" r="0.72" fill="#62965a"/>
<circle cx="423.92" cy="229.20" r="0.72" fill="#b04850"/>
<circle cx="468.87" cy="207.02" r="0.72" fill="#62965a"/>
<circle cx="473.28" cy="190.48" r="0.72" fill="#b04850"/>
<circle cx="461.55" cy="178.23" r="0.72" fill="#62965a"/>
<circle cx="439.16" cy="173.10" r="0.72" fill="#62965a"/>
<circle cx="470.35" cy="224.99" r="0.72" fill="#62965a"/>
<circle cx="445.62" cy="217.74" r="0.72" fill="#b04850"/>
<circle cx="435.87" cy="242.06" r="0.72" fill="#62965a"/>
<circle cx="474.72" cy="216.33" r="0.72" fill="#62965a"/>
<circle cx="451.38" cy="171.17" r="0.72" fill="#b04850"/>
<circle cx="453.61" cy="220.62" r="0.72" fill="#62965a"/>
<circle cx="460.91" cy="228.73" r="0.72" fill="#62965a"/>
<circle cx="455.63" cy="216.48" r="0.72" fill="#b04850"/>
<circle cx="480.79" cy="197.02" r="0.72" fill="#b04850"/>
<circle cx="449.29" cy="180.77" r="0.72" fill="#b04850"/>
<circle cx="465.71" cy="211.35" r="0.72" fill="#62965a"/>
<circle cx="443.95" cy="207.23" r="0.72" fill="#b04850"/>
<circle cx="462.64" cy="200.14" r="0.72" fill="#62965a"/>
<circle cx="470.65" cy="181.38" r="0.72" fill="#b04850"/>
<circle cx="468.41" cy="230.73" r="0.72" fill="#b04850"/>
<circle cx="441.14" cy="199.92" r="0.72" fill="#62965a"/>
<circle cx="447.10" cy="209.46" r="0.72" fill="#62965a"/>
<circle cx="466.74" cy="238.66" r="0.72" fill="#62965a"/>
<circle cx="432.71" cy="195.24" r="0.72" fill="#62965a"/>
<circle cx="463.75" cy="248.05" r="0.72" fill="#b04850"/>
<circle cx="437.03" cy="191.92" r="0.72" fill="#b04850"/>
<circle cx="484.61" cy="227.45" r="0.72" fill="#b04850"/>
<circle cx="416.63" cy="216.97" r="0.72" fill="#62965a"/>
<circle cx="484.36" cy="184.09" r="0.72" fill="#b04850"/>
<circle cx="421.04" cy="204.24" r="0.72" fill="#b04850"/>
<circle cx="433.95" cy="218.79" r="0.72" fill="#b04850"/>
<circle cx="486.08" cy="248.22" r="0.72" fill="#62965a"/>
<circle cx="456.98" cy="207.31" r="0.72" fill="#62965a"/>
<circle cx="465.42" cy="209.68" r="0.72" fill="#62965a"/>
<circle cx="440.53" cy="216.77" r="0.72" fill="#b04850"/>
<circle cx="458.79" cy="212.35" r="0.72" fill="#b04850"/>
<circle cx="464.58" cy="222.70" r="0.72" fill="#62965a"/>
<circle cx="422.64" cy="236.18" r="0.72" fill="#b04850"/>
<circle cx="465.54" cy="233.16" r="0.72" fill="#62965a"/>
<circle cx="445.67" cy="199.61" r="0.72" fill="#b04850"/>
<circle cx="461.74" cy="169.71" r="0.72" fill="#b04850"/>
<circle cx="471.12" cy="239.29" r="0.72" fill="#b04850"/>
<circle cx="448.25" cy="224.84" r="0.72" fill="#62965a"/>
<circle cx="467.04" cy="230.31" r="0.72" fill="#62965a"/>
<circle cx="455.24" cy="198.07" r="0.72" fill="#b04850"/>
<circle cx="489.36" cy="235.91" r="0.72" fill="#62965a"/>
<circle cx="462.68" cy="218.63" r="0.72" fill="#62965a"/>
<circle cx="450.50" cy="206.95" r="0.72" fill="#62965a"/>
<circle cx="428.17" cy="218.71" r="0.72" fill="#b04850"/>
<circle cx="495.38" cy="220.69" r="0.72" fill="#b04850"/>
<circle cx="468.38" cy="188.76" r="0.72" fill="#62965a"/>
<circle cx="434.97" cy="204.32" r="0.72" fill="#b04850"/>
<circle cx="482.42" cy="220.91" r="0.72" fill="#b04850"/>
<circle cx="467.78" cy="209.51" r="0.72" fill="#62965a"/>
<circle cx="485.47" cy="220.18" r="0.72" fill="#62965a"/>
<circle cx="464.51" cy="206.71" r="0.72" fill="#b04850"/>
<circle cx="438.88" cy="201.12" r="0.72" fill="#62965a"/>
<circle cx="456.80" cy="214.69" r="0.72" fill="#62965a"/>
<circle cx="466.98" cy="254.96" r="0.72" fill="#62965a"/>
<circle cx="493.47" cy="189.50" r="0.72" fill="#62965a"/>
<circle cx="469.29" cy="196.33" r="0.72" fill="#62965a"/>
<circle cx="498.70" cy="204.00" r="0.72" fill="#b04850"/>
<circle cx="471.35" cy="217.48" r="0.72" fill="#62965a"/>
<circle cx="460.27" cy="208.59" r="0.72" fill="#62965a"/>
<circle cx="426.71" cy="184.20" r="0.72" fill="#62965a"/>
<circle cx="473.09" cy="223.37" r="0.72" fill="#62965a"/>
<circle cx="436.79" cy="220.47" r="0.72" fill="#62965a"/>
<circle cx="430.53" cy="183.53" r="0.72" fill="#62965a"/>
<circle cx="496.03" cy="183.98" r="0.72" fill="#62965a"/>
<circle cx="462.83" cy="206.85" r="0.72" fill="#62965a"/>
<circle cx="452.30" cy="233.13" r="0.72" fill="#62965a"/>
<circle cx="495.81" cy="243.22" r="0.72" fill="#b04850"/>
<circle cx="483.79" cy="203.63" r="0.72" fill="#62965a"/>
<circle cx="462.60" cy="219.16" r="0.72" fill="#b04850"/>
<circle cx="482.70" cy="193.03" r="0.72" fill="#62965a"/>
<circle cx="457.21" cy="181.86" r="0.72" fill="#b04850"/>
<circle cx="479.81" cy="195.60" r="0.72" fill="#62965a"/>
<circle cx="443.11" cy="215.98" r="0.72" fill="#b04850"/>
<circle cx="469.39" cy="230.55" r="0.72" fill="#62965a"/>
<circle cx="457.10" cy="234.76" r="0.72" fill="#b04850"/>
<circle cx="448.63" cy="206.96" r="0.72" fill="#b04850"/>
<circle cx="431.64" cy="189.19" r="0.72" fill="#b04850"/>
<circle cx="472.46" cy="201.90" r="0.72" fill="#62965a"/>
<circle cx="460.74" cy="191.51" r="0.72" fill="#62965a"/>
<circle cx="426.28" cy="214.94" r="0.72" fill="#b04850"/>
<circle cx="471.87" cy="208.65" r="0.72" fill="#62965a"/>
<circle cx="435.95" cy="179.68" r="0.72" fill="#62965a"/>
<circle cx="468.99" cy="225.89" r="0.72" fill="#62965a"/>
<circle cx="454.76" cy="233.41" r="0.72" fill="#b04850"/>
<circle cx="475.40" cy="199.96" r="0.72" fill="#62965a"/>
<circle cx="474.68" cy="186.66" r="0.72" fill="#62965a"/>
<circle cx="447.39" cy="217.02" r="0.72" fill="#62965a"/>
<circle cx="475.00" cy="226.57" r="0.72" fill="#62965a"/>
<circle cx="493.48" cy="181.50" r="0.72" fill="#b04850"/>
<circle cx="486.18" cy="210.86" r="0.72" fill="#62965a"/>
<circle cx="507.52" cy="208.15" r="0.72" fill="#62965a"/>
<circle cx="442.83" cy="207.23" r="0.72" fill="#b04850"/>
<circle cx="422.10" cy="203.83" r="0.72" fill="#b04850"/>
<circle cx="485.46" cy="218.55" r="0.72" fill="#62965a"/>
<circle cx="499.41" cy="230.13" r="0.72" fill="#62965a"/>
<circle cx="445.74" cy="228.61" r="0.72" fill="#b04850"/>
<circle cx="499.63" cy="195.71" r="0.72" fill="#b04850"/>
<circle cx="449.61" cy="218.45" r="0.72" fill="#62965a"/>
<circle cx="466.04" cy="188.20" r="0.72" fill="#b04850"/>
<circle cx="454.62" cy="218.16" r="0.72" fill="#62965a"/>
<circle cx="438.46" cy="193.09" r="0.72" fill="#b04850"/>
<circle cx="424.04" cy="193.41" r="0.72" fill="#b04850"/>
<circle cx="465.51" cy="183.73" r="0.72" fill="#62965a"/>
<circle cx="450.13" cy="181.11" r="0.72" fill="#b04850"/>
<circle cx="425.59" cy="204.20" r="0.72" fill="#b04850"/>
<circle cx="453.29" cy="213.74" r="0.72" fill="#b04850"/>
<circle cx="492.42" cy="202.93" r="0.72" fill="#62965a"/>
<circle cx="444.35" cy="210.62" r="0.72" fill="#b04850"/>
<circle cx="460.08" cy="181.39" r="0.72" fill="#62965a"/>
<circle cx="476.76" cy="231.73" r="0.72" fill="#b04850"/>
<circle cx="441.18" cy="204.69" r="0.72" fill="#b04850"/>
<circle cx="452.19" cy="196.82" r="0.72" fill="#b04850"/>
<circle cx="431.59" cy="243.85" r="0.72" fill="#62965a"/>
<circle cx="469.07" cy="196.98" r="0.72" fill="#b04850"/>
<circle cx="454.26" cy="224.17" r="0.72" fill="#b04850"/>
<circle cx="439.12" cy="176.50" r="0.72" fill="#b04850"/>
<circle cx="426.57" cy="190.89" r="0.72" fill="#b04850"/>
<circle cx="455.26" cy="191.36" r="0.72" fill="#b04850"/>
<circle cx="460.66" cy="233.09" r="0.72" fill="#62965a"/>
<circle cx="465.64" cy="233.18" r="0.72" fill="#62965a"/>
<circle cx="472.23" cy="215.09" r="0.72" fill="#b04850"/>
<circle cx="445.13" cy="207.52" r="0.72" fill="#62965a"/>
<circle cx="440.50" cy="204.07" r="0.72" fill="#b04850"/>
<circle cx="460.80" cy="204.11" r="0.72" fill="#b04850"/>
<circle cx="424.10" cy="210.66" r="0.72" fill="#b04850"/>
<circle cx="467.10" cy="236.60" r="0.72" fill="#62965a"/>
<circle cx="436.14" cy="199.41" r="0.72" fill="#b04850"/>
<circle cx="419.60" cy="220.34" r="0.72" fill="#62965a"/>
<circle cx="440.77" cy="197.45" r="0.72" fill="#62965a"/>
<circle cx="420.88" cy="190.71" r="0.72" fill="#b04850"/>
<circle cx="468.33" cy="219.70" r="0.72" fill="#b04850"/>
<circle cx="504.17" cy="248.98" r="0.72" fill="#62965a"/>
<circle cx="456.74" cy="214.86" r="0.72" fill="#62965a"/>
<circle cx="447.33" cy="209.73" r="0.72" fill="#62965a"/>
<circle cx="448.79" cy="240.33" r="0.72" fill="#62965a"/>
<circle cx="433.25" cy="198.59" r="0.72" fill="#b04850"/>
<circle cx="479.11" cy="202.30" r="0.72" fill="#62965a"/>
<circle cx="491.61" cy="205.09" r="0.72" fill="#62965a"/>
<circle cx="448.28" cy="221.44" r="0.72" fill="#b04850"/>
<circle cx="454.04" cy="192.49" r="0.72" fill="#b04850"/>
<circle cx="440.81" cy="211.80" r="0.72" fill="#62965a"/>
<circle cx="458.87" cy="187.74" r="0.72" fill="#b04850"/>
<circle cx="490.01" cy="206.76" r="0.72" fill="#b04850"/>
<circle cx="458.44" cy="201.22" r="0.72" fill="#62965a"/>
<circle cx="436.90" cy="179.30" r="0.72" fill="#b04850"/>
<circle cx="477.35" cy="226.83" r="0.72" fill="#62965a"/>
<circle cx="493.01" cy="232.96" r="0.72" fill="#62965a"/>
<circle cx="452.03" cy="247.69" r="0.72" fill="#62965a"/>
<circle cx="495.16" cy="171.90" r="0.72" fill="#b04850"/>
<circle cx="428.16" cy="240.41" r="0.72" fill="#b04850"/>
<circle cx="470.57" cy="205.35" r="0.72" fill="#62965a"/>
<circle cx="472.27" cy="211.29" r="0.72" fill="#62965a"/>
<circle cx="427.92" cy="224.09" r="0.72" fill="#62965a"/>
<circle cx="450.02" cy="188.05" r="0.72" fill="#b04850"/>
<circle cx="504.82" cy="206.75" r="0.72" fill="#62965a"/>
<circle cx="478.71" cy="227.97" r="0.72" fill="#62965a"/>
<circle cx="480.67" cy="250.75" r="0.72" fill="#62965a"/>
<circle cx="439.54" cy="201.16" r="0.72" fill="#62965a"/>
<circle cx="476.70" cy="207.40" r="0.72" fill="#62965a"/>
<circle cx="499.06" cy="226.21" r="0.72" fill="#62965a"/>
<circle cx="443.96" cy="212.61" r="0.72" fill="#62965a"/>
<circle cx="500.02" cy="228.07" r="0.72" fill="#62965a"/>
<circle cx="434.78" cy="213.56" r="0.72" fill="#62965a"/>
<circle cx="475.27" cy="191.16" r="0.72" fill="#62965a"/>
<circle cx="438.98" cy="235.12" r="0.72" fill="#62965a"/>
<circle cx="449.05" cy="238.27" r="0.72" fill="#b04850"/>
<circle cx="438.95" cy="212.39" r="0.72" fill="#b04850"/>
<circle cx="462.26" cy="215.43" r="0.72" fill="#62965a"/>
<circle cx="485.26" cy="195.52" r="0.72" fill="#62965a"/>
<circle cx="436.68" cy="198.85" r="0.72" fill="#b04850"/>
<circle cx="438.13" cy="241.29" r="0.72" fill="#62965a"/>
<circle cx="457.23" cy="207.14" r="0.72" fill="#62965a"/>
<circle cx="433.54" cy="192.85" r="0.72" fill="#b04850"/>
<circle cx="474.62" cy="209.34" r="0.72" fill="#62965a"/>
<circle cx="427.13" cy="221.84" r="0.72" fill="#62965a"/>
<circle cx="473.75" cy="198.24" r="0.72" fill="#b04850"/>
<circle cx="471.03" cy="178.99" r="0.72" fill="#b04850"/>
<circle cx="454.49" cy="191.27" r="0.72" fill="#b04850"/>
<circle cx="426.88" cy="214.02" r="0.72" fill="#b04850"/>
<circle cx="437.37" cy="223.21" r="0.72" fill="#62965a"/>
<circle cx="448.61" cy="227.48" r="0.72" fill="#62965a"/>
<circle cx="441.86" cy="205.27" r="0.72" fill="#b04850"/>
<circle cx="437.16" cy="182.53" r="0.72" fill="#b04850"/>
<circle cx="452.52" cy="205.80" r="0.72" fill="#b04850"/>
<circle cx="432.68" cy="207.94" r="0.72" fill="#62965a"/>
<circle cx="486.95" cy="207.29" r="0.72" fill="#62965a"/>
<circle cx="416.71" cy="205.89" r="0.72" fill="#b04850"/>
<circle cx="471.92" cy="203.63" r="0.72" fill="#b04850"/>
<circle cx="428.57" cy="191.61" r="0.72" fill="#b04850"/>
<circle cx="451.96" cy="213.18" r="0.72" fill="#62965a"/>
<circle cx="458.48" cy="228.78" r="0.72" fill="#62965a"/>
<circle cx="480.23" cy="205.26" r="0.72" fill="#b04850"/>
<circle cx="475.39" cy="218.92" r="0.72" fill="#62965a"/>
<circle cx="489.29" cy="248.75" r="0.72" fill="#62965a"/>
<circle cx="481.13" cy="223.00" r="0.72" fill="#62965a"/>
<circle cx="438.53" cy="214.44" r="0.72" fill="#b04850"/>
<circle cx="421.25" cy="196.54" r="0.72" fill="#62965a"/>
<circle cx="428.99" cy="223.61" r="0.72" fill="#62965a"/>
<circle cx="481.76" cy="215.58" r="0.72" fill="#b04850"/>
<circle cx="422.10" cy="220.58" r="0.72" fill="#b04850"/>
<circle cx="447.12" cy="185.68" r="0.72" fill="#b04850"/>
<circle cx="469.14" cy="216.60" r="0.72" fill="#62965a"/>
<circle cx="487.99" cy="201.98" r="0.72" fill="#62965a"/>
<circle cx="488.29" cy="186.06" r="0.72" fill="#62965a"/>
<circle cx="475.69" cy="212.71" r="0.72" fill="#62965a"/>
<circle cx="416.17" cy="205.13" r="0.72" fill="#b04850"/>
<circle cx="433.74" cy="207.16" r="0.72" fill="#b04850"/>
<circle cx="431.91" cy="174.90" r="0.72" fill="#b04850"/>
<circle cx="435.97" cy="215.56" r="0.72" fill="#62965a"/>
<circle cx="464.48" cy="204.39" r="0.72" fill="#b04850"/>
<circle cx="459.76" cy="217.44" r="0.72" fill="#62965a"/>
<circle cx="467.20" cy="215.27" r="0.72" fill="#62965a"/>
<circle cx="478.12" cy="206.79" r="0.72" fill="#62965a"/>
<circle cx="458.82" cy="215.84" r="0.72" fill="#62965a"/>
<circle cx="463.20" cy="216.60" r="0.72" fill="#62965a"/>
<circle cx="493.34" cy="216.06" r="0.72" fill="#62965a"/>
<circle cx="491.92" cy="203.86" r="0.72" fill="#62965a"/>
<circle cx="428.54" cy="204.58" r="0.72" fill="#62965a"/>
<circle cx="485.35" cy="250.70" r="0.72" fill="#62965a"/>
<circle cx="429.29" cy="191.82" r="0.72" fill="#b04850"/>
<circle cx="433.47" cy="172.80" r="0.72" fill="#b04850"/>
<circle cx="456.08" cy="194.90" r="0.72" fill="#62965a"/>
<circle cx="456.46" cy="217.58" r="0.72" fill="#62965a"/>
<circle cx="459.97" cy="202.30" r="0.72" fill="#62965a"/>
<circle cx="433.65" cy="198.91" r="0.72" fill="#b04850"/>
<circle cx="493.12" cy="247.57" r="0.72" fill="#b04850"/>
<circle cx="425.43" cy="181.19" r="0.72" fill="#b04850"/>
<circle cx="451.86" cy="174.26" r="0.72" fill="#b04850"/>
<circle cx="456.84" cy="182.14" r="0.72" fill="#b04850"/>
<circle cx="492.64" cy="202.66" r="0.72" fill="#62965a"/>
<circle cx="473.41" cy="221.35" r="0.72" fill="#62965a"/>
<circle cx="434.05" cy="215.74" r="0.72" fill="#62965a"/>
<circle cx="415.39" cy="215.27" r="0.72" fill="#b04850"/>
<circle cx="418.50" cy="194.37" r="0.72" fill="#62965a"/>
<circle cx="447.84" cy="229.15" r="0.72" fill="#b04850"/>
<circle cx="482.31" cy="244.36" r="0.72" fill="#62965a"/>
<circle cx="464.25" cy="198.51" r="0.72" fill="#b04850"/>
<circle cx="421.15" cy="220.16" r="0.72" fill="#b04850"/>
<circle cx="420.47" cy="179.14" r="0.72" fill="#62965a"/>
<circle cx="502.55" cy="235.02" r="0.72" fill="#62965a"/>
<circle cx="427.21" cy="194.03" r="0.72" fill="#b04850"/>
<circle cx="467.58" cy="217.33" r="0.72" fill="#62965a"/>
<circle cx="467.41" cy="202.97" r="0.72" fill="#62965a"/>
<circle cx="458.47" cy="246.23" r="0.72" fill="#b04850"/>
<circle cx="476.49" cy="235.26" r="0.72" fill="#62965a"/>
<circle cx="432.46" cy="226.67" r="0.72" fill="#62965a"/>
<circle cx="472.78" cy="198.53" r="0.72" fill="#b04850"/>
<circle cx="496.30" cy="220.05" r="0.72" fill="#62965a"/>
<circle cx="449.79" cy="218.34" r="0.72" fill="#b04850"/>
<circle cx="456.57" cy="248.69" r="0.72" fill="#b04850"/>
<circle cx="460.59" cy="186.79" r="0.72" fill="#b04850"/>
<circle cx="439.61" cy="210.70" r="0.72" fill="#62965a"/>
<circle cx="453.95" cy="202.05" r="0.72" fill="#b04850"/>
<circle cx="495.47" cy="215.97" r="0.72" fill="#62965a"/>
<circle cx="463.01" cy="187.41" r="0.72" fill="#62965a"/>
<circle cx="434.51" cy="173.07" r="0.72" fill="#b04850"/>
<circle cx="480.25" cy="216.84" r="0.72" fill="#62965a"/>
<circle cx="464.56" cy="249.27" r="0.72" fill="#b04850"/>
<circle cx="440.20" cy="216.06" r="0.72" fill="#62965a"/>
<circle cx="474.34" cy="227.14" r="0.72" fill="#62965a"/>
<circle cx="435.95" cy="209.53" r="0.72" fill="#62965a"/>
<circle cx="446.36" cy="207.84" r="0.72" fill="#62965a"/>
<circle cx="434.60" cy="199.23" r="0.72" fill="#b04850"/>
<circle cx="467.63" cy="242.67" r="0.72" fill="#62965a"/>
<circle cx="482.20" cy="227.59" r="0.72" fill="#b04850"/>
<circle cx="457.52" cy="191.77" r="0.72" fill="#b04850"/>
<circle cx="450.79" cy="177.41" r="0.72" fill="#b04850"/>
<circle cx="449.12" cy="240.22" r="0.72" fill="#62965a"/>
<circle cx="465.32" cy="192.42" r="0.72" fill="#62965a"/>
<circle cx="459.24" cy="242.14" r="0.72" fill="#62965a"/>
<circle cx="445.89" cy="186.25" r="0.72" fill="#b04850"/>
<circle cx="466.39" cy="204.24" r="0.72" fill="#b04850"/>
<circle cx="467.49" cy="247.09" r="0.72" fill="#b04850"/>
<circle cx="485.31" cy="220.08" r="0.72" fill="#62965a"/>
<circle cx="477.19" cy="221.80" r="0.72" fill="#62965a"/>
<circle cx="505.87" cy="211.59" r="0.72" fill="#62965a"/>
<circle cx="467.06" cy="194.49" r="0.72" fill="#62965a"/>
<circle cx="485.62" cy="192.31" r="0.72" fill="#62965a"/>
<circle cx="495.94" cy="238.30" r="0.72" fill="#62965a"/>
<circle cx="470.86" cy="237.76" r="0.72" fill="#b04850"/>
<circle cx="492.90" cy="209.05" r="0.72" fill="#62965a"/>
<circle cx="438.53" cy="185.74" r="0.72" fill="#b04850"/>
<circle cx="428.86" cy="187.51" r="0.72" fill="#b04850"/>
<circle cx="457.23" cy="181.42" r="0.72" fill="#b04850"/>
<circle cx="463.73" cy="198.22" r="0.72" fill="#b04850"/>
<circle cx="496.41" cy="232.76" r="0.72" fill="#62965a"/>
<circle cx="447.89" cy="208.31" r="0.72" fill="#b04850"/>
<circle cx="420.12" cy="196.09" r="0.72" fill="#b04850"/>
<circle cx="469.87" cy="189.14" r="0.72" fill="#b04850"/>
<circle cx="451.08" cy="208.57" r="0.72" fill="#62965a"/>
<circle cx="431.15" cy="207.22" r="0.72" fill="#b04850"/>
<circle cx="487.23" cy="202.65" r="0.72" fill="#62965a"/>
<circle cx="439.23" cy="183.61" r="0.72" fill="#b04850"/>
<circle cx="440.82" cy="174.39" r="0.72" fill="#b04850"/>
<circle cx="493.06" cy="236.02" r="0.72" fill="#62965a"/>
<circle cx="439.81" cy="203.44" r="0.72" fill="#b04850"/>
<circle cx="482.63" cy="237.13" r="0.72" fill="#b04850"/>
<circle cx="483.43" cy="230.73" r="0.72" fill="#b04850"/>
<circle cx="415.91" cy="237.21" r="0.72" fill="#b04850"/>
<circle cx="494.09" cy="223.48" r="0.72" fill="#62965a"/>
<circle cx="443.34" cy="245.62" r="0.72" fill="#62965a"/>
<circle cx="460.73" cy="237.75" r="0.72" fill="#62965a"/>
<circle cx="444.13" cy="186.41" r="0.72" fill="#b04850"/>
<circle cx="415.40" cy="230.15" r="0.72" fill="#62965a"/>
<circle cx="434.55" cy="199.57" r="0.72" fill="#b04850"/>
<circle cx="467.65" cy="209.91" r="0.72" fill="#62965a"/>
<circle cx="456.36" cy="231.88" r="0.72" fill="#62965a"/>
<circle cx="460.72" cy="203.71" r="0.72" fill="#62965a"/>
<circle cx="443.79" cy="216.70" r="0.72" fill="#b04850"/>
<circle cx="464.57" cy="236.10" r="0.72" fill="#62965a"/>
<circle cx="425.13" cy="233.75" r="0.72" fill="#b04850"/>
<circle cx="451.16" cy="213.87" r="0.72" fill="#62965a"/>
<circle cx="466.84" cy="215.24" r="0.72" fill="#b04850"/>
<circle cx="434.71" cy="222.87" r="0.72" fill="#b04850"/>
<circle cx="465.83" cy="211.34" r="0.72" fill="#62965a"/>
<circle cx="451.23" cy="180.12" r="0.72" fill="#b04850"/>
<circle cx="449.45" cy="231.05" r="0.72" fill="#62965a"/>
<circle cx="442.16" cy="214.18" r="0.72" fill="#62965a"/>
<circle cx="476.82" cy="196.84" r="0.72" fill="#b04850"/>
<circle cx="439.06" cy="204.09" r="0.72" fill="#b04850"/>
<circle cx="484.99" cy="231.89" r="0.72" fill="#62965a"/>
<circle cx="422.15" cy="201.85" r="0.72" fill="#b04850"/>
<circle cx="445.47" cy="213.91" r="0.72" fill="#b04850"/>
<circle cx="453.34" cy="217.21" r="0.72" fill="#b04850"/>
<circle cx="458.44" cy="212.94" r="0.72" fill="#b04850"/>
<circle cx="433.71" cy="203.25" r="0.72" fill="#b04850"/>
<circle cx="496.77" cy="171.78" r="0.72" fill="#b04850"/>
<circle cx="498.81" cy="226.75" r="0.72" fill="#62965a"/>
<circle cx="442.01" cy="190.45" r="0.72" fill="#62965a"/>
<circle cx="485.41" cy="186.63" r="0.72" fill="#b04850"/>
<circle cx="468.48" cy="217.23" r="0.72" fill="#62965a"/>
<circle cx="430.18" cy="228.80" r="0.72" fill="#b04850"/>
<circle cx="499.57" cy="201.92" r="0.72" fill="#62965a"/>
<circle cx="457.27" cy="206.95" r="0.72" fill="#b04850"/>
<circle cx="451.83" cy="241.88" r="0.72" fill="#62965a"/>
<circle cx="482.90" cy="228.96" r="0.72" fill="#62965a"/>
<circle cx="451.57" cy="206.26" r="0.72" fill="#b04850"/>
<circle cx="436.33" cy="221.74" r="0.72" fill="#b04850"/>
<circle cx="453.34" cy="190.61" r="0.72" fill="#b04850"/>
<circle cx="470.00" cy="226.02" r="0.72" fill="#b04850"/>
<circle cx="463.70" cy="205.94" r="0.72" fill="#62965a"/>
<circle cx="471.64" cy="238.72" r="0.72" fill="#b04850"/>
<circle cx="489.09" cy="220.94" r="0.72" fill="#62965a"/>
<circle cx="484.32" cy="205.84" r="0.72" fill="#62965a"/>
<circle cx="470.54" cy="204.67" r="0.72" fill="#62965a"/>
<circle cx="488.58" cy="185.10" r="0.72" fill="#b04850"/>
<circle cx="485.70" cy="203.15" r="0.72" fill="#62965a"/>
<circle cx="465.21" cy="202.19" r="0.72" fill="#b04850"/>
<circle cx="459.79" cy="195.11" r="0.72" fill="#62965a"/>
<circle cx="444.19" cy="214.00" r="0.72" fill="#b04850"/>
<circle cx="452.28" cy="176.49" r="0.72" fill="#b04850"/>
<circle cx="418.43" cy="220.86" r="0.72" fill="#62965a"/>
<circle cx="494.28" cy="227.50" r="0.72" fill="#62965a"/>
<circle cx="455.31" cy="253.11" r="0.72" fill="#62965a"/>
<circle cx="438.77" cy="178.02" r="0.72" fill="#b04850"/>
<circle cx="428.16" cy="203.21" r="0.72" fill="#62965a"/>
<circle cx="474.02" cy="248.56" r="0.72" fill="#62965a"/>
<circle cx="435.79" cy="214.31" r="0.72" fill="#b04850"/>
<circle cx="465.19" cy="224.66" r="0.72" fill="#62965a"/>
<circle cx="476.10" cy="214.78" r="0.72" fill="#62965a"/>
<circle cx="489.74" cy="213.94" r="0.72" fill="#62965a"/>
<circle cx="441.06" cy="184.79" r="0.72" fill="#b04850"/>
<circle cx="497.13" cy="223.31" r="0.72" fill="#62965a"/>
<circle cx="441.74" cy="181.73" r="0.72" fill="#62965a"/>
<circle cx="415.17" cy="198.93" r="0.72" fill="#b04850"/>
<circle cx="490.09" cy="189.66" r="0.72" fill="#b04850"/>
<circle cx="412.17" cy="191.76" r="0.72" fill="#b04850"/>
<circle cx="462.53" cy="215.76" r="0.72" fill="#b04850"/>
<circle cx="483.47" cy="205.77" r="0.72" fill="#62965a"/>
<circle cx="453.33" cy="199.06" r="0.72" fill="#b04850"/>
<circle cx="502.45" cy="197.90" r="0.72" fill="#62965a"/>
<circle cx="437.95" cy="216.48" r="0.72" fill="#b04850"/>
<circle cx="442.76" cy="232.17" r="0.72" fill="#b04850"/>
<circle cx="442.12" cy="214.25" r="0.72" fill="#b04850"/>
<circle cx="465.81" cy="227.26" r="0.72" fill="#62965a"/>
<circle cx="472.04" cy="240.74" r="0.72" fill="#62965a"/>
<circle cx="479.24" cy="208.69" r="0.72" fill="#b04850"/>
<circle cx="438.53" cy="208.79" r="0.72" fill="#62965a"/>
<circle cx="477.24" cy="207.14" r="0.72" fill="#b04850"/>
<circle cx="469.00" cy="237.12" r="0.72" fill="#62965a"/>
<circle cx="487.23" cy="183.27" r="0.72" fill="#b04850"/>
<circle cx="413.95" cy="196.88" r="0.72" fill="#b04850"/>
<circle cx="402.30" cy="251.20" r="1.4" fill="#a01e28"/>
<text x="406.6" y="253.8" font-size="7.2" fill="#333">ABC (n=237)</text>
<circle cx="402.30" cy="259.90" r="1.4" fill="#2f7a3a"/>
<text x="406.6" y="262.5" font-size="7.2" fill="#333">GCB (n=259)</text>
<text x="406.6" y="271.2" font-size="7.2" fill="#333">r= -0.324</text>
<text x="0.40" y="313.30" font-size="11.3" text-anchor="start" fill="#000" font-weight="bold">G</text>
<line x1="44.30" y1="325.30" x2="44.30" y2="399.80" stroke="#1a1a1a" stroke-width="1.15"/>
<line x1="44.30" y1="399.80" x2="152.70" y2="399.80" stroke="#1a1a1a" stroke-width="1.15"/>
<line x1="41.80" y1="399.80" x2="44.30" y2="399.80" stroke="#1a1a1a" stroke-width="0.9"/>
<text x="39.70" y="402.30" font-size="7.0" text-anchor="end" fill="#1a1a1a" stroke="#1a1a1a" stroke-width="0.09">0</text>
<line x1="41.80" y1="384.90" x2="44.30" y2="384.90" stroke="#1a1a1a" stroke-width="0.9"/>
<text x="39.70" y="387.40" font-size="7.0" text-anchor="end" fill="#1a1a1a" stroke="#1a1a1a" stroke-width="0.09">0.0002</text>
<line x1="41.80" y1="370.00" x2="44.30" y2="370.00" stroke="#1a1a1a" stroke-width="0.9"/>
<text x="39.70" y="372.50" font-size="7.0" text-anchor="end" fill="#1a1a1a" stroke="#1a1a1a" stroke-width="0.09">0.0004</text>
<line x1="41.80" y1="355.10" x2="44.30" y2="355.10" stroke="#1a1a1a" stroke-width="0.9"/>
<text x="39.70" y="357.60" font-size="7.0" text-anchor="end" fill="#1a1a1a" stroke="#1a1a1a" stroke-width="0.09">0.0006</text>
<line x1="41.80" y1="340.20" x2="44.30" y2="340.20" stroke="#1a1a1a" stroke-width="0.9"/>
<text x="39.70" y="342.70" font-size="7.0" text-anchor="end" fill="#1a1a1a" stroke="#1a1a1a" stroke-width="0.09">0.0008</text>
<line x1="41.80" y1="325.30" x2="44.30" y2="325.30" stroke="#1a1a1a" stroke-width="0.9"/>
<text x="39.70" y="327.80" font-size="7.0" text-anchor="end" fill="#1a1a1a" stroke="#1a1a1a" stroke-width="0.09">0.0010</text>
<line x1="44.40" y1="399.80" x2="44.40" y2="402.00" stroke="#1a1a1a" stroke-width="0.9"/>
<text x="44.40" y="410.00" font-size="7.0" text-anchor="middle" fill="#1a1a1a" stroke="#1a1a1a" stroke-width="0.09">0</text>
<line x1="80.50" y1="399.80" x2="80.50" y2="402.00" stroke="#1a1a1a" stroke-width="0.9"/>
<text x="80.50" y="410.00" font-size="7.0" text-anchor="middle" fill="#1a1a1a" stroke="#1a1a1a" stroke-width="0.09">0.0005</text>
<line x1="116.60" y1="399.80" x2="116.60" y2="402.00" stroke="#1a1a1a" stroke-width="0.9"/>
<text x="116.60" y="410.00" font-size="7.0" text-anchor="middle" fill="#1a1a1a" stroke="#1a1a1a" stroke-width="0.09">0.0010</text>
<line x1="152.70" y1="399.80" x2="152.70" y2="402.00" stroke="#1a1a1a" stroke-width="0.9"/>
<text x="152.70" y="410.00" font-size="7.0" text-anchor="middle" fill="#1a1a1a" stroke="#1a1a1a" stroke-width="0.09">0.0015</text>
<text x="107.50" y="419.50" font-size="7" text-anchor="middle" fill="#555" stroke="#555" stroke-width="0.09">relative expression</text>
<text x="107.50" y="426.30" font-size="7" text-anchor="middle" fill="#555" stroke="#555" stroke-width="0.09">S1PR2/ACTIN</text>
<text x="5.60" y="357.80" font-size="6.65" text-anchor="middle" fill="#555" transform="rotate(-90 5.6 357.8)" stroke="#555" stroke-width="0.09">relative expression</text>
<text x="14.00" y="357.40" font-size="6.85" text-anchor="middle" fill="#555" transform="rotate(-90 14.0 357.4)" stroke="#555" stroke-width="0.09">FOXP1_6/ACTIN</text>
<line x1="51.20" y1="368.00" x2="113.80" y2="399.60" stroke="#c0282d" stroke-width="1.0"/>
<circle cx="58.20" cy="352.40" r="1.7" fill="#b0141e"/>
<circle cx="51.40" cy="375.80" r="1.7" fill="#b0141e"/>
<circle cx="57.00" cy="379.60" r="1.7" fill="#b0141e"/>
<circle cx="88.00" cy="389.00" r="1.7" fill="#b0141e"/>
<circle cx="102.80" cy="395.80" r="1.7" fill="#b0141e"/>
<circle cx="115.30" cy="398.40" r="1.7" fill="#b0141e"/>
<circle cx="86.20" cy="340.20" r="1.5" fill="#2e8b3e"/>
<circle cx="67.10" cy="399.60" r="1.5" fill="#2e8b3e"/>
<circle cx="80.00" cy="399.60" r="1.5" fill="#2e8b3e"/>
<circle cx="82.00" cy="399.60" r="1.5" fill="#2e8b3e"/>
<text x="63.20" y="371.00" font-size="7.3" text-anchor="start" fill="#555" stroke="#555" stroke-width="0.09">r=-0.639</text>
<text x="165.10" y="312.40" font-size="11.3" text-anchor="start" fill="#000" font-weight="bold">H</text>
<line x1="197.10" y1="323.00" x2="197.10" y2="400.10" stroke="#222" stroke-width="0.9"/>
<line x1="194.60" y1="400.10" x2="197.10" y2="400.10" stroke="#222" stroke-width="0.9"/>
<line x1="194.60" y1="380.83" x2="197.10" y2="380.83" stroke="#222" stroke-width="0.9"/>
<line x1="194.60" y1="361.55" x2="197.10" y2="361.55" stroke="#222" stroke-width="0.9"/>
<line x1="194.60" y1="342.27" x2="197.10" y2="342.27" stroke="#222" stroke-width="0.9"/>
<line x1="194.60" y1="323.00" x2="197.10" y2="323.00" stroke="#222" stroke-width="0.9"/>
<text x="192.00" y="400.10" font-size="6.8" text-anchor="middle" fill="#1a1a1a" transform="rotate(-90 192.0 400.1)" stroke="#1a1a1a" stroke-width="0.09">0</text>
<text x="192.00" y="362.50" font-size="6.8" text-anchor="middle" fill="#1a1a1a" transform="rotate(-90 192.0 362.5)" stroke="#1a1a1a" stroke-width="0.09">10000</text>
<text x="192.00" y="320.00" font-size="6.8" text-anchor="middle" fill="#1a1a1a" transform="rotate(-90 192.0 320.0)" stroke="#1a1a1a" stroke-width="0.09">20000</text>
<text x="181.60" y="361.50" font-size="7.3" text-anchor="middle" fill="#222" transform="rotate(-90 181.6 361.5)" stroke="#222" stroke-width="0.09">Expression Signal</text>
<text x="234.80" y="314.20" font-size="7.0" text-anchor="middle" fill="#222" stroke="#222" stroke-width="0.09">FOXP1</text>
<rect x="199.20" y="346.00" width="2.24" height="54.10" fill="#a6aa94" stroke="#1a1a1a" stroke-width="0.75"/>
<rect x="201.44" y="343.70" width="2.24" height="56.40" fill="#a6aa94" stroke="#1a1a1a" stroke-width="0.75"/>
<rect x="203.67" y="337.10" width="2.24" height="63.00" fill="#a6aa94" stroke="#1a1a1a" stroke-width="0.75"/>
<rect x="205.91" y="331.50" width="2.24" height="68.60" fill="#a6aa94" stroke="#1a1a1a" stroke-width="0.75"/>
<rect x="208.15" y="330.40" width="2.24" height="69.70" fill="#a6aa94" stroke="#1a1a1a" stroke-width="0.75"/>
<rect x="210.38" y="387.30" width="2.24" height="12.80" fill="#72843c" stroke="#1a1a1a" stroke-width="0.75"/>
<rect x="212.62" y="386.60" width="2.24" height="13.50" fill="#72843c" stroke="#1a1a1a" stroke-width="0.75"/>
<rect x="214.86" y="383.10" width="2.24" height="17.00" fill="#72843c" stroke="#1a1a1a" stroke-width="0.75"/>
<rect x="217.09" y="381.70" width="2.24" height="18.40" fill="#72843c" stroke="#1a1a1a" stroke-width="0.75"/>
<rect x="219.33" y="396.10" width="2.24" height="4.00" fill="#46532a" stroke="#1a1a1a" stroke-width="0.75"/>
<rect x="221.57" y="394.30" width="2.24" height="5.80" fill="#46532a" stroke="#1a1a1a" stroke-width="0.75"/>
<rect x="223.81" y="393.30" width="2.24" height="6.80" fill="#46532a" stroke="#1a1a1a" stroke-width="0.75"/>
<rect x="226.04" y="391.50" width="2.24" height="8.60" fill="#46532a" stroke="#1a1a1a" stroke-width="0.75"/>
<rect x="228.28" y="354.20" width="2.24" height="45.90" fill="#6890b2" stroke="#1a1a1a" stroke-width="0.75"/>
<rect x="230.52" y="351.10" width="2.24" height="49.00" fill="#6890b2" stroke="#1a1a1a" stroke-width="0.75"/>
<rect x="232.75" y="330.40" width="2.24" height="69.70" fill="#6890b2" stroke="#1a1a1a" stroke-width="0.75"/>
<rect x="234.99" y="326.90" width="2.24" height="73.20" fill="#6890b2" stroke="#1a1a1a" stroke-width="0.75"/>
<rect x="237.23" y="319.60" width="2.24" height="80.50" fill="#6890b2" stroke="#1a1a1a" stroke-width="0.75"/>
<rect x="239.46" y="397.60" width="2.24" height="2.50" fill="#8a2434" stroke="#1a1a1a" stroke-width="0.75"/>
<rect x="241.70" y="397.40" width="2.24" height="2.70" fill="#8a2434" stroke="#1a1a1a" stroke-width="0.75"/>
<rect x="243.94" y="397.00" width="2.24" height="3.10" fill="#8a2434" stroke="#1a1a1a" stroke-width="0.75"/>
<rect x="246.17" y="396.80" width="2.24" height="3.30" fill="#8a2434" stroke="#1a1a1a" stroke-width="0.75"/>
<rect x="248.41" y="396.60" width="2.24" height="3.50" fill="#8a2434" stroke="#1a1a1a" stroke-width="0.75"/>
<rect x="250.65" y="398.00" width="2.24" height="2.10" fill="#c8aab8" stroke="#1a1a1a" stroke-width="0.75"/>
<rect x="252.88" y="398.00" width="2.24" height="2.10" fill="#c8aab8" stroke="#1a1a1a" stroke-width="0.75"/>
<rect x="255.12" y="397.80" width="2.24" height="2.30" fill="#c8aab8" stroke="#1a1a1a" stroke-width="0.75"/>
<rect x="257.36" y="397.60" width="2.24" height="2.50" fill="#c8aab8" stroke="#1a1a1a" stroke-width="0.75"/>
<rect x="259.59" y="397.60" width="2.24" height="2.50" fill="#c8aab8" stroke="#1a1a1a" stroke-width="0.75"/>
<rect x="261.83" y="397.60" width="2.24" height="2.50" fill="#8880b0" stroke="#1a1a1a" stroke-width="0.75"/>
<rect x="264.07" y="397.80" width="2.24" height="2.30" fill="#8880b0" stroke="#1a1a1a" stroke-width="0.75"/>
<rect x="266.31" y="397.00" width="2.24" height="3.10" fill="#8880b0" stroke="#1a1a1a" stroke-width="0.75"/>
<rect x="268.54" y="397.20" width="2.24" height="2.90" fill="#8880b0" stroke="#1a1a1a" stroke-width="0.75"/>
<rect x="270.78" y="397.00" width="2.24" height="3.10" fill="#8880b0" stroke="#1a1a1a" stroke-width="0.75"/>
<rect x="273.02" y="397.20" width="2.24" height="2.90" fill="#40347a" stroke="#1a1a1a" stroke-width="0.75"/>
<rect x="275.25" y="396.60" width="2.24" height="3.50" fill="#40347a" stroke="#1a1a1a" stroke-width="0.75"/>
<rect x="277.49" y="396.00" width="2.24" height="4.10" fill="#40347a" stroke="#1a1a1a" stroke-width="0.75"/>
<rect x="279.73" y="395.60" width="2.24" height="4.50" fill="#40347a" stroke="#1a1a1a" stroke-width="0.75"/>
<rect x="281.96" y="395.40" width="2.24" height="4.70" fill="#40347a" stroke="#1a1a1a" stroke-width="0.75"/>
<text x="204.70" y="407.30" font-size="7.0" text-anchor="middle" fill="#1a1a1a" stroke="#1a1a1a" stroke-width="0.09">1</text>
<text x="214.60" y="407.30" font-size="7.0" text-anchor="middle" fill="#1a1a1a" stroke="#1a1a1a" stroke-width="0.09">2</text>
<text x="223.80" y="407.30" font-size="7.0" text-anchor="middle" fill="#1a1a1a" stroke="#1a1a1a" stroke-width="0.09">3</text>
<text x="233.60" y="407.30" font-size="7.0" text-anchor="middle" fill="#1a1a1a" stroke="#1a1a1a" stroke-width="0.09">4</text>
<text x="244.20" y="407.30" font-size="7.0" text-anchor="middle" fill="#1a1a1a" stroke="#1a1a1a" stroke-width="0.09">5</text>
<text x="256.30" y="407.30" font-size="7.0" text-anchor="middle" fill="#1a1a1a" stroke="#1a1a1a" stroke-width="0.09">6</text>
<text x="267.20" y="407.30" font-size="7.0" text-anchor="middle" fill="#1a1a1a" stroke="#1a1a1a" stroke-width="0.09">7</text>
<text x="279.10" y="407.30" font-size="7.0" text-anchor="middle" fill="#1a1a1a" stroke="#1a1a1a" stroke-width="0.09">8</text>
<line x1="308.30" y1="334.50" x2="308.30" y2="400.10" stroke="#222" stroke-width="0.9"/>
<line x1="305.80" y1="400.10" x2="308.30" y2="400.10" stroke="#222" stroke-width="0.9"/>
<line x1="305.80" y1="383.70" x2="308.30" y2="383.70" stroke="#222" stroke-width="0.9"/>
<line x1="305.80" y1="367.30" x2="308.30" y2="367.30" stroke="#222" stroke-width="0.9"/>
<line x1="305.80" y1="350.90" x2="308.30" y2="350.90" stroke="#222" stroke-width="0.9"/>
<line x1="305.80" y1="334.50" x2="308.30" y2="334.50" stroke="#222" stroke-width="0.9"/>
<text x="304.30" y="400.10" font-size="6.8" text-anchor="middle" fill="#1a1a1a" transform="rotate(-90 304.3 400.1)" stroke="#1a1a1a" stroke-width="0.09">0</text>
<text x="304.30" y="367.30" font-size="6.8" text-anchor="middle" fill="#1a1a1a" transform="rotate(-90 304.3 367.3)" stroke="#1a1a1a" stroke-width="0.09">4000</text>
<text x="304.30" y="334.00" font-size="6.8" text-anchor="middle" fill="#1a1a1a" transform="rotate(-90 304.3 334.0)" stroke="#1a1a1a" stroke-width="0.09">8000</text>
<text x="294.20" y="361.50" font-size="7.3" text-anchor="middle" fill="#222" transform="rotate(-90 294.2 361.5)" stroke="#222" stroke-width="0.09">Expression Signal</text>
<text x="338.00" y="314.20" font-size="7.0" text-anchor="middle" fill="#222" stroke="#222" stroke-width="0.09">S1PR2</text>
<rect x="311.20" y="399.50" width="2.22" height="0.60" fill="#a6aa94" stroke="#1a1a1a" stroke-width="0.75"/>
<rect x="313.42" y="399.30" width="2.22" height="0.80" fill="#a6aa94" stroke="#1a1a1a" stroke-width="0.75"/>
<rect x="315.65" y="399.00" width="2.22" height="1.10" fill="#a6aa94" stroke="#1a1a1a" stroke-width="0.75"/>
<rect x="317.87" y="397.00" width="2.22" height="3.10" fill="#a6aa94" stroke="#1a1a1a" stroke-width="0.75"/>
<rect x="320.09" y="392.40" width="2.22" height="7.70" fill="#a6aa94" stroke="#1a1a1a" stroke-width="0.75"/>
<rect x="322.32" y="343.60" width="2.22" height="56.50" fill="#72843c" stroke="#1a1a1a" stroke-width="0.75"/>
<rect x="324.54" y="341.00" width="2.22" height="59.10" fill="#72843c" stroke="#1a1a1a" stroke-width="0.75"/>
<rect x="326.77" y="338.70" width="2.22" height="61.40" fill="#72843c" stroke="#1a1a1a" stroke-width="0.75"/>
<rect x="328.99" y="319.80" width="2.22" height="80.30" fill="#72843c" stroke="#1a1a1a" stroke-width="0.75"/>
<rect x="331.21" y="347.00" width="2.22" height="53.10" fill="#46532a" stroke="#1a1a1a" stroke-width="0.75"/>
<rect x="333.44" y="346.60" width="2.22" height="53.50" fill="#46532a" stroke="#1a1a1a" stroke-width="0.75"/>
<rect x="335.66" y="343.10" width="2.22" height="57.00" fill="#46532a" stroke="#1a1a1a" stroke-width="0.75"/>
<rect x="337.88" y="334.50" width="2.22" height="65.60" fill="#46532a" stroke="#1a1a1a" stroke-width="0.75"/>
<rect x="340.11" y="399.40" width="2.22" height="0.70" fill="#6890b2" stroke="#1a1a1a" stroke-width="0.75"/>
<rect x="342.33" y="399.00" width="2.22" height="1.10" fill="#6890b2" stroke="#1a1a1a" stroke-width="0.75"/>
<rect x="344.56" y="398.20" width="2.22" height="1.90" fill="#6890b2" stroke="#1a1a1a" stroke-width="0.75"/>
<rect x="346.78" y="397.00" width="2.22" height="3.10" fill="#6890b2" stroke="#1a1a1a" stroke-width="0.75"/>
<rect x="349.00" y="398.40" width="2.22" height="1.70" fill="#6890b2" stroke="#1a1a1a" stroke-width="0.75"/>
<rect x="351.23" y="399.40" width="2.22" height="0.70" fill="#8a2434" stroke="#1a1a1a" stroke-width="0.75"/>
<rect x="353.45" y="399.00" width="2.22" height="1.10" fill="#8a2434" stroke="#1a1a1a" stroke-width="0.75"/>
<rect x="355.67" y="398.60" width="2.22" height="1.50" fill="#8a2434" stroke="#1a1a1a" stroke-width="0.75"/>
<rect x="357.90" y="398.00" width="2.22" height="2.10" fill="#8a2434" stroke="#1a1a1a" stroke-width="0.75"/>
<rect x="360.12" y="397.60" width="2.22" height="2.50" fill="#8a2434" stroke="#1a1a1a" stroke-width="0.75"/>
<rect x="362.34" y="396.20" width="2.22" height="3.90" fill="#c8aab8" stroke="#1a1a1a" stroke-width="0.75"/>
<rect x="364.57" y="394.60" width="2.22" height="5.50" fill="#c8aab8" stroke="#1a1a1a" stroke-width="0.75"/>
<rect x="366.79" y="394.00" width="2.22" height="6.10" fill="#c8aab8" stroke="#1a1a1a" stroke-width="0.75"/>
<rect x="369.02" y="394.30" width="2.22" height="5.80" fill="#c8aab8" stroke="#1a1a1a" stroke-width="0.75"/>
<rect x="371.24" y="396.00" width="2.22" height="4.10" fill="#c8aab8" stroke="#1a1a1a" stroke-width="0.75"/>
<rect x="373.46" y="396.00" width="2.22" height="4.10" fill="#8880b0" stroke="#1a1a1a" stroke-width="0.75"/>
<rect x="375.69" y="395.40" width="2.22" height="4.70" fill="#8880b0" stroke="#1a1a1a" stroke-width="0.75"/>
<rect x="377.91" y="395.00" width="2.22" height="5.10" fill="#8880b0" stroke="#1a1a1a" stroke-width="0.75"/>
<rect x="380.13" y="394.60" width="2.22" height="5.50" fill="#8880b0" stroke="#1a1a1a" stroke-width="0.75"/>
<rect x="382.36" y="394.40" width="2.22" height="5.70" fill="#8880b0" stroke="#1a1a1a" stroke-width="0.75"/>
<rect x="384.58" y="399.00" width="2.22" height="1.10" fill="#40347a" stroke="#1a1a1a" stroke-width="0.75"/>
<rect x="386.81" y="398.90" width="2.22" height="1.20" fill="#40347a" stroke="#1a1a1a" stroke-width="0.75"/>
<rect x="389.03" y="398.60" width="2.22" height="1.50" fill="#40347a" stroke="#1a1a1a" stroke-width="0.75"/>
<rect x="391.25" y="398.40" width="2.22" height="1.70" fill="#40347a" stroke="#1a1a1a" stroke-width="0.75"/>
<rect x="393.48" y="398.30" width="2.22" height="1.80" fill="#40347a" stroke="#1a1a1a" stroke-width="0.75"/>
<text x="318.10" y="407.30" font-size="7.0" text-anchor="middle" fill="#1a1a1a" stroke="#1a1a1a" stroke-width="0.09">1</text>
<text x="326.60" y="407.30" font-size="7.0" text-anchor="middle" fill="#1a1a1a" stroke="#1a1a1a" stroke-width="0.09">2</text>
<text x="336.00" y="407.30" font-size="7.0" text-anchor="middle" fill="#1a1a1a" stroke="#1a1a1a" stroke-width="0.09">3</text>
<text x="346.50" y="407.30" font-size="7.0" text-anchor="middle" fill="#1a1a1a" stroke="#1a1a1a" stroke-width="0.09">4</text>
<text x="357.80" y="407.30" font-size="7.0" text-anchor="middle" fill="#1a1a1a" stroke="#1a1a1a" stroke-width="0.09">5</text>
<text x="368.10" y="407.30" font-size="7.0" text-anchor="middle" fill="#1a1a1a" stroke="#1a1a1a" stroke-width="0.09">6</text>
<text x="379.00" y="407.30" font-size="7.0" text-anchor="middle" fill="#1a1a1a" stroke="#1a1a1a" stroke-width="0.09">7</text>
<text x="390.80" y="407.30" font-size="7.0" text-anchor="middle" fill="#1a1a1a" stroke="#1a1a1a" stroke-width="0.09">8</text>
<line x1="399.20" y1="330.70" x2="414.60" y2="330.70" stroke="#dbe3c3" stroke-width="1.9"/>
<text x="419.00" y="333.10" font-size="7.1" text-anchor="start" fill="#222" stroke="#222" stroke-width="0.09">1:Naive B cells (5)</text>
<line x1="399.20" y1="339.40" x2="414.60" y2="339.40" stroke="#8a9a48" stroke-width="1.9"/>
<text x="419.00" y="341.80" font-size="7.1" text-anchor="start" fill="#222" stroke="#222" stroke-width="0.09">2:Centroblasts (4)</text>
<line x1="399.20" y1="348.20" x2="414.60" y2="348.20" stroke="#4f5e2e" stroke-width="1.9"/>
<text x="419.00" y="350.60" font-size="7.1" text-anchor="start" fill="#222" stroke="#222" stroke-width="0.09">3:Centrocytes (4)</text>
<line x1="399.20" y1="356.90" x2="414.60" y2="356.90" stroke="#86c6dc" stroke-width="1.9"/>
<text x="419.00" y="359.30" font-size="7.1" text-anchor="start" fill="#222" stroke="#222" stroke-width="0.09">4:Memory B cells (5)</text>
<line x1="399.20" y1="365.60" x2="414.60" y2="365.60" stroke="#c01a2a" stroke-width="1.9"/>
<text x="419.00" y="368.00" font-size="7.1" text-anchor="start" fill="#222" stroke="#222" stroke-width="0.09">5:preplasmablasts (5)</text>
<line x1="399.20" y1="374.30" x2="414.60" y2="374.30" stroke="#ecc8dc" stroke-width="1.9"/>
<text x="419.00" y="376.70" font-size="7.1" text-anchor="start" fill="#222" stroke="#222" stroke-width="0.09">6:Plasmablasts (5)</text>
<line x1="399.20" y1="383.00" x2="414.60" y2="383.00" stroke="#a9a2d0" stroke-width="1.9"/>
<text x="419.00" y="385.40" font-size="7.1" text-anchor="start" fill="#222" stroke="#222" stroke-width="0.09">7:Early plasma cells (5)</text>
<line x1="399.20" y1="391.70" x2="414.60" y2="391.70" stroke="#58489a" stroke-width="1.9"/>
<text x="419.00" y="394.10" font-size="7.1" text-anchor="start" fill="#222" stroke="#222" stroke-width="0.09">8:Bone marrow plasma cells (5)</text>
</svg>
</body></html>
